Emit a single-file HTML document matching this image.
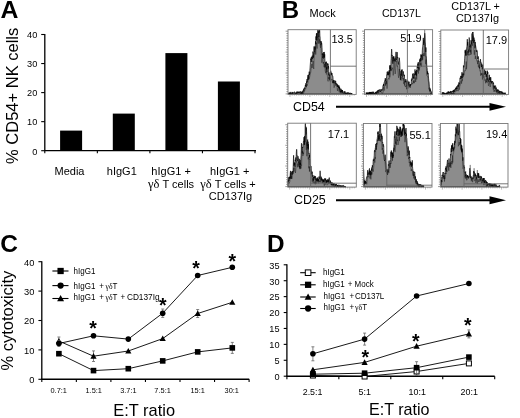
<!DOCTYPE html>
<html><head><meta charset="utf-8"><style>
html,body{margin:0;padding:0;background:#fff;overflow:hidden;width:520px;height:418px;}
svg{display:block;filter:blur(0.3px);}
text{font-family:"Liberation Sans", sans-serif;fill:#000;}
</style></head><body>
<svg width="520" height="418" viewBox="0 0 520 418">
<rect width="520" height="418" fill="#fff"/>
<text x="0.5" y="17.9" font-size="24.8" text-anchor="start" font-weight="bold" >A</text>
<line x1="44.8" y1="34.00" x2="44.8" y2="150.7" stroke="#000" stroke-width="1.3"/>
<line x1="44.199999999999996" y1="150.7" x2="256" y2="150.7" stroke="#000" stroke-width="1.3"/>
<line x1="41.199999999999996" y1="150.70" x2="44.8" y2="150.70" stroke="#000" stroke-width="1.1"/>
<text x="37.3" y="154.5" font-size="9.2" text-anchor="end" font-weight="normal" fill="#222">0</text>
<line x1="41.199999999999996" y1="121.65" x2="44.8" y2="121.65" stroke="#000" stroke-width="1.1"/>
<text x="37.3" y="125.45" font-size="9.2" text-anchor="end" font-weight="normal" fill="#222">10</text>
<line x1="41.199999999999996" y1="92.60" x2="44.8" y2="92.60" stroke="#000" stroke-width="1.1"/>
<text x="37.3" y="96.4" font-size="9.2" text-anchor="end" font-weight="normal" fill="#222">20</text>
<line x1="41.199999999999996" y1="63.55" x2="44.8" y2="63.55" stroke="#000" stroke-width="1.1"/>
<text x="37.3" y="67.35" font-size="9.2" text-anchor="end" font-weight="normal" fill="#222">30</text>
<line x1="41.199999999999996" y1="34.50" x2="44.8" y2="34.50" stroke="#000" stroke-width="1.1"/>
<text x="37.3" y="38.3" font-size="9.2" text-anchor="end" font-weight="normal" fill="#222">40</text>
<line x1="44.80" y1="150.7" x2="44.80" y2="153.29999999999998" stroke="#000" stroke-width="1.1"/>
<line x1="97.35" y1="150.7" x2="97.35" y2="153.29999999999998" stroke="#000" stroke-width="1.1"/>
<line x1="149.90" y1="150.7" x2="149.90" y2="153.29999999999998" stroke="#000" stroke-width="1.1"/>
<line x1="202.45" y1="150.7" x2="202.45" y2="153.29999999999998" stroke="#000" stroke-width="1.1"/>
<line x1="255.00" y1="150.7" x2="255.00" y2="153.29999999999998" stroke="#000" stroke-width="1.1"/>
<rect x="60.099999999999994" y="130.6" width="22" height="20.10" fill="#000"/>
<rect x="112.8" y="113.6" width="22" height="37.10" fill="#000"/>
<rect x="165.4" y="53.1" width="22" height="97.60" fill="#000"/>
<rect x="217.9" y="81.5" width="22" height="69.20" fill="#000"/>
<text x="69.5" y="174.8" font-size="11" text-anchor="middle" font-weight="normal" >Media</text>
<text x="121.8" y="174.8" font-size="11" text-anchor="middle" font-weight="normal" >hIgG1</text>
<text x="171.1" y="174.8" font-size="11" text-anchor="middle" font-weight="normal" >hIgG1 +</text>
<text x="171.1" y="187.5" font-size="11" text-anchor="middle" font-weight="normal" ><tspan font-family="Liberation Serif" font-size="12.5">γδ</tspan> T cells</text>
<text x="229.7" y="174.8" font-size="11" text-anchor="middle" font-weight="normal" >hIgG1 +</text>
<text x="228" y="187.5" font-size="11" text-anchor="middle" font-weight="normal" ><tspan font-family="Liberation Serif" font-size="12.5">γδ</tspan> T cells +</text>
<text x="230.5" y="200.3" font-size="11" text-anchor="middle" font-weight="normal" >CD137Ig</text>
<text transform="translate(17.8,95.8) rotate(-90)" font-size="16.5" text-anchor="middle">% CD54+ NK cells</text>
<text x="281.7" y="18.2" font-size="24" text-anchor="start" font-weight="bold" >B</text>
<text x="322.7" y="16.9" font-size="11" text-anchor="middle" font-weight="normal" >Mock</text>
<text x="401.4" y="16.9" font-size="10.6" text-anchor="middle" font-weight="normal" >CD137L</text>
<text x="475.6" y="9.5" font-size="10.8" text-anchor="middle" font-weight="normal" >CD137L +</text>
<text x="477.5" y="21.9" font-size="10.9" text-anchor="middle" font-weight="normal" >CD137Ig</text>
<line x1="285.6" y1="31.2" x2="288" y2="31.2" stroke="#555" stroke-width="0.6"/>
<line x1="286.4" y1="33.5" x2="288" y2="33.5" stroke="#555" stroke-width="0.6"/>
<line x1="286.4" y1="35.8" x2="288" y2="35.8" stroke="#555" stroke-width="0.6"/>
<line x1="286.4" y1="38.2" x2="288" y2="38.2" stroke="#555" stroke-width="0.6"/>
<line x1="286.4" y1="40.5" x2="288" y2="40.5" stroke="#555" stroke-width="0.6"/>
<line x1="286.4" y1="42.8" x2="288" y2="42.8" stroke="#555" stroke-width="0.6"/>
<line x1="286.4" y1="45.1" x2="288" y2="45.1" stroke="#555" stroke-width="0.6"/>
<line x1="286.4" y1="47.5" x2="288" y2="47.5" stroke="#555" stroke-width="0.6"/>
<line x1="286.4" y1="49.8" x2="288" y2="49.8" stroke="#555" stroke-width="0.6"/>
<line x1="285.6" y1="52.1" x2="288" y2="52.1" stroke="#555" stroke-width="0.6"/>
<line x1="286.4" y1="54.4" x2="288" y2="54.4" stroke="#555" stroke-width="0.6"/>
<line x1="286.4" y1="56.7" x2="288" y2="56.7" stroke="#555" stroke-width="0.6"/>
<line x1="286.4" y1="59.1" x2="288" y2="59.1" stroke="#555" stroke-width="0.6"/>
<line x1="286.4" y1="61.4" x2="288" y2="61.4" stroke="#555" stroke-width="0.6"/>
<line x1="286.4" y1="63.7" x2="288" y2="63.7" stroke="#555" stroke-width="0.6"/>
<line x1="286.4" y1="66.0" x2="288" y2="66.0" stroke="#555" stroke-width="0.6"/>
<line x1="286.4" y1="68.4" x2="288" y2="68.4" stroke="#555" stroke-width="0.6"/>
<line x1="286.4" y1="70.7" x2="288" y2="70.7" stroke="#555" stroke-width="0.6"/>
<line x1="285.6" y1="73.0" x2="288" y2="73.0" stroke="#555" stroke-width="0.6"/>
<line x1="286.4" y1="75.3" x2="288" y2="75.3" stroke="#555" stroke-width="0.6"/>
<line x1="286.4" y1="77.6" x2="288" y2="77.6" stroke="#555" stroke-width="0.6"/>
<line x1="286.4" y1="80.0" x2="288" y2="80.0" stroke="#555" stroke-width="0.6"/>
<line x1="286.4" y1="82.3" x2="288" y2="82.3" stroke="#555" stroke-width="0.6"/>
<line x1="286.4" y1="84.6" x2="288" y2="84.6" stroke="#555" stroke-width="0.6"/>
<line x1="286.4" y1="86.9" x2="288" y2="86.9" stroke="#555" stroke-width="0.6"/>
<line x1="286.4" y1="89.3" x2="288" y2="89.3" stroke="#555" stroke-width="0.6"/>
<line x1="286.4" y1="91.6" x2="288" y2="91.6" stroke="#555" stroke-width="0.6"/>
<line x1="285.6" y1="93.9" x2="288" y2="93.9" stroke="#555" stroke-width="0.6"/>
<line x1="290.0" y1="94.4" x2="290.0" y2="96.9" stroke="#777" stroke-width="0.5"/>
<line x1="292.2" y1="94.4" x2="292.2" y2="95.7" stroke="#777" stroke-width="0.5"/>
<line x1="294.4" y1="94.4" x2="294.4" y2="95.7" stroke="#777" stroke-width="0.5"/>
<line x1="296.6" y1="94.4" x2="296.6" y2="95.7" stroke="#777" stroke-width="0.5"/>
<line x1="298.9" y1="94.4" x2="298.9" y2="95.7" stroke="#777" stroke-width="0.5"/>
<line x1="301.1" y1="94.4" x2="301.1" y2="95.7" stroke="#777" stroke-width="0.5"/>
<line x1="303.3" y1="94.4" x2="303.3" y2="95.7" stroke="#777" stroke-width="0.5"/>
<line x1="305.5" y1="94.4" x2="305.5" y2="95.7" stroke="#777" stroke-width="0.5"/>
<line x1="307.7" y1="94.4" x2="307.7" y2="95.7" stroke="#777" stroke-width="0.5"/>
<line x1="309.9" y1="94.4" x2="309.9" y2="96.9" stroke="#777" stroke-width="0.5"/>
<line x1="312.1" y1="94.4" x2="312.1" y2="95.7" stroke="#777" stroke-width="0.5"/>
<line x1="314.4" y1="94.4" x2="314.4" y2="95.7" stroke="#777" stroke-width="0.5"/>
<line x1="316.6" y1="94.4" x2="316.6" y2="95.7" stroke="#777" stroke-width="0.5"/>
<line x1="318.8" y1="94.4" x2="318.8" y2="95.7" stroke="#777" stroke-width="0.5"/>
<line x1="321.0" y1="94.4" x2="321.0" y2="95.7" stroke="#777" stroke-width="0.5"/>
<line x1="323.2" y1="94.4" x2="323.2" y2="95.7" stroke="#777" stroke-width="0.5"/>
<line x1="325.4" y1="94.4" x2="325.4" y2="95.7" stroke="#777" stroke-width="0.5"/>
<line x1="327.6" y1="94.4" x2="327.6" y2="95.7" stroke="#777" stroke-width="0.5"/>
<line x1="329.8" y1="94.4" x2="329.8" y2="96.9" stroke="#777" stroke-width="0.5"/>
<line x1="332.1" y1="94.4" x2="332.1" y2="95.7" stroke="#777" stroke-width="0.5"/>
<line x1="334.3" y1="94.4" x2="334.3" y2="95.7" stroke="#777" stroke-width="0.5"/>
<line x1="336.5" y1="94.4" x2="336.5" y2="95.7" stroke="#777" stroke-width="0.5"/>
<line x1="338.7" y1="94.4" x2="338.7" y2="95.7" stroke="#777" stroke-width="0.5"/>
<line x1="340.9" y1="94.4" x2="340.9" y2="95.7" stroke="#777" stroke-width="0.5"/>
<line x1="343.1" y1="94.4" x2="343.1" y2="95.7" stroke="#777" stroke-width="0.5"/>
<line x1="345.3" y1="94.4" x2="345.3" y2="95.7" stroke="#777" stroke-width="0.5"/>
<line x1="347.6" y1="94.4" x2="347.6" y2="95.7" stroke="#777" stroke-width="0.5"/>
<line x1="349.8" y1="94.4" x2="349.8" y2="96.9" stroke="#777" stroke-width="0.5"/>
<line x1="352.0" y1="94.4" x2="352.0" y2="95.7" stroke="#777" stroke-width="0.5"/>
<line x1="354.2" y1="94.4" x2="354.2" y2="95.7" stroke="#777" stroke-width="0.5"/>
<path d="M288.5,94.0 L288.50,94.0 L288.70,92.7 L288.89,93.3 L289.09,94.0 L289.29,93.4 L289.49,93.1 L289.68,92.6 L289.88,93.2 L290.08,94.0 L290.28,91.9 L290.47,93.6 L290.67,93.7 L290.87,93.8 L291.07,93.5 L291.26,93.6 L291.46,92.9 L291.66,93.0 L291.86,92.7 L292.05,91.9 L292.25,93.8 L292.45,93.1 L292.64,92.3 L292.84,92.9 L293.04,92.8 L293.24,92.5 L293.43,92.5 L293.63,92.9 L293.83,93.1 L294.03,93.0 L294.22,92.7 L294.42,91.7 L294.62,92.2 L294.82,92.2 L295.01,93.2 L295.21,93.8 L295.41,93.6 L295.61,93.6 L295.80,93.7 L296.00,92.4 L296.20,93.8 L296.41,93.4 L296.61,91.9 L296.81,91.7 L297.02,91.6 L297.22,93.3 L297.42,92.1 L297.62,91.7 L297.83,93.0 L298.03,92.4 L298.23,91.7 L298.44,91.9 L298.64,92.8 L298.84,91.9 L299.05,92.0 L299.25,93.0 L299.45,92.3 L299.66,91.9 L299.86,92.3 L300.06,91.3 L300.27,92.3 L300.47,92.4 L300.67,91.9 L300.88,91.6 L301.08,93.6 L301.28,92.6 L301.48,91.9 L301.69,93.0 L301.89,93.7 L302.09,91.7 L302.30,91.6 L302.50,91.8 L302.70,92.8 L302.90,90.6 L303.10,91.8 L303.30,91.2 L303.50,90.3 L303.70,88.7 L303.90,91.2 L304.10,90.4 L304.31,89.1 L304.52,87.8 L304.73,88.7 L304.93,86.9 L305.14,86.9 L305.35,85.1 L305.56,86.2 L305.77,83.3 L305.98,84.1 L306.18,86.8 L306.39,85.4 L306.60,81.5 L306.80,83.0 L307.00,79.1 L307.20,81.9 L307.40,80.4 L307.60,78.1 L307.80,76.8 L308.00,75.1 L308.20,79.9 L308.40,74.7 L308.60,78.9 L308.80,78.9 L309.00,75.5 L309.21,71.7 L309.42,74.9 L309.62,74.1 L309.83,70.8 L310.04,67.9 L310.25,64.9 L310.46,62.2 L310.67,58.7 L310.88,59.7 L311.08,58.2 L311.29,57.0 L311.50,56.8 L311.70,61.9 L311.90,57.8 L312.10,58.2 L312.30,55.6 L312.50,58.8 L312.70,58.9 L312.90,51.6 L313.10,52.9 L313.30,53.6 L313.50,57.6 L313.70,54.3 L313.90,49.0 L314.10,46.4 L314.30,50.3 L314.50,51.6 L314.70,52.4 L314.91,47.0 L315.12,49.5 L315.34,45.5 L315.55,41.3 L315.76,44.2 L315.97,36.4 L316.19,40.3 L316.40,33.5 L316.58,33.6 L316.77,40.3 L316.95,33.0 L317.13,37.8 L317.32,35.6 L317.50,35.3 L317.69,30.2 L317.87,30.2 L318.06,30.2 L318.24,32.9 L318.43,31.6 L318.61,36.2 L318.80,36.8 L318.99,30.2 L319.17,32.6 L319.36,30.2 L319.54,30.2 L319.73,30.2 L319.91,35.9 L320.10,37.0 L320.32,42.3 L320.54,41.6 L320.76,43.9 L320.98,45.2 L321.20,41.2 L321.41,43.7 L321.62,42.9 L321.84,43.9 L322.05,47.8 L322.26,54.8 L322.47,53.4 L322.69,57.8 L322.90,55.3 L323.10,53.9 L323.30,58.1 L323.50,58.5 L323.70,52.1 L323.90,56.9 L324.10,52.2 L324.30,52.1 L324.50,57.6 L324.70,54.3 L324.90,58.8 L325.10,67.4 L325.30,66.3 L325.50,63.0 L325.70,62.4 L325.90,61.9 L326.10,64.5 L326.31,61.7 L326.53,69.3 L326.74,67.3 L326.95,72.4 L327.16,70.5 L327.38,64.9 L327.59,63.4 L327.80,65.0 L328.00,63.7 L328.20,68.6 L328.40,65.7 L328.60,67.0 L328.80,75.1 L329.00,72.4 L329.20,76.0 L329.40,76.1 L329.60,75.7 L329.80,74.6 L330.00,80.3 L330.20,80.1 L330.40,78.4 L330.60,71.7 L330.80,70.8 L331.00,72.6 L331.20,75.0 L331.40,72.7 L331.60,73.9 L331.80,74.5 L332.00,73.2 L332.20,75.9 L332.40,75.6 L332.60,76.2 L332.81,76.1 L333.02,78.1 L333.23,82.8 L333.43,80.1 L333.64,81.3 L333.85,81.3 L334.06,83.0 L334.27,80.5 L334.48,80.5 L334.68,81.1 L334.89,81.5 L335.10,84.0 L335.30,84.0 L335.50,80.8 L335.70,80.8 L335.90,82.7 L336.10,83.8 L336.30,84.7 L336.50,83.8 L336.70,83.3 L336.90,84.7 L337.10,84.4 L337.30,86.9 L337.50,84.6 L337.71,84.5 L337.92,86.8 L338.12,85.3 L338.33,87.5 L338.54,86.4 L338.75,88.0 L338.96,85.5 L339.17,87.4 L339.38,89.0 L339.58,86.9 L339.79,90.6 L340.00,88.4 L340.20,90.9 L340.40,92.0 L340.60,91.5 L340.80,89.6 L341.00,88.8 L341.20,90.0 L341.40,91.4 L341.60,89.8 L341.80,92.0 L342.00,90.0 L342.20,92.5 L342.40,90.0 L342.60,90.9 L342.80,92.7 L343.00,92.5 L343.20,93.0 L343.40,93.0 L343.60,92.8 L343.80,92.7 L344.00,91.4 L344.20,92.1 L344.40,91.5 L344.60,93.0 L344.80,92.9 L345.00,92.0 L345.20,91.6 L345.40,93.9 L345.60,93.6 L345.80,93.1 L346.00,93.2 L346.20,93.9 L346.40,93.0 L346.60,92.9 L346.80,92.8 L347.00,92.7 L347.20,92.2 L347.40,93.7 L347.60,93.2 L347.80,93.6 L348.00,92.6 L348.20,93.2 L348.40,92.7 L348.60,92.7 L348.80,93.0 L349.00,94.0 L349.20,93.3 L349.40,93.3 L349.60,93.8 L349.80,93.1 L350.00,92.7 L350.20,93.7 L350.40,93.6 L350.60,93.9 L350.80,93.5 L351.00,93.9 L351.20,94.0 L351.40,93.2 L351.60,93.7 L351.80,93.7 L352.00,93.3 L352.0,94.0 Z" fill="#8c8c8c" stroke="#000" stroke-width="0.65" stroke-linejoin="miter"/>
<path d="M288.50,94.0 L288.86,94.0 L289.21,94.0 L289.57,94.0 L289.93,93.6 L290.29,94.0 L290.64,94.0 L291.00,93.8 L291.36,94.0 L291.71,93.9 L292.07,94.0 L292.43,93.1 L292.79,94.0 L293.14,94.0 L293.50,93.7 L293.86,94.0 L294.21,94.0 L294.57,94.0 L294.93,94.0 L295.29,94.0 L295.64,93.9 L296.00,93.6 L296.34,93.1 L296.68,93.6 L297.03,94.0 L297.37,94.0 L297.71,94.0 L298.05,94.0 L298.39,94.0 L298.74,94.0 L299.08,94.0 L299.42,93.9 L299.76,94.0 L300.11,94.0 L300.45,93.5 L300.79,93.1 L301.13,94.0 L301.47,94.0 L301.82,93.7 L302.16,92.4 L302.50,93.7 L302.82,92.9 L303.14,92.9 L303.46,93.5 L303.78,92.2 L304.10,92.3 L304.46,91.5 L304.81,90.3 L305.17,88.5 L305.53,89.2 L305.89,88.2 L306.24,87.4 L306.60,86.1 L306.94,84.4 L307.29,85.6 L307.63,84.0 L307.97,83.0 L308.31,80.5 L308.66,80.2 L309.00,79.1 L309.36,78.5 L309.71,76.8 L310.07,75.2 L310.43,72.7 L310.79,72.7 L311.14,68.9 L311.50,67.5 L311.82,64.0 L312.14,68.0 L312.46,64.3 L312.78,64.1 L313.10,61.0 L313.42,66.4 L313.74,69.0 L314.06,60.1 L314.38,53.5 L314.70,54.1 L315.04,45.9 L315.38,47.6 L315.72,54.6 L316.06,49.6 L316.40,42.7 L316.77,45.1 L317.13,48.6 L317.50,40.3 L317.82,37.6 L318.15,43.6 L318.48,36.9 L318.80,35.9 L319.12,43.6 L319.45,39.3 L319.78,41.6 L320.10,44.8 L320.47,47.8 L320.83,44.2 L321.20,53.6 L321.54,57.7 L321.88,62.8 L322.22,58.8 L322.56,57.2 L322.90,58.8 L323.22,63.7 L323.54,62.0 L323.86,66.2 L324.18,67.2 L324.50,64.0 L324.82,65.0 L325.14,70.5 L325.46,72.1 L325.78,73.2 L326.10,64.8 L326.44,74.4 L326.78,73.9 L327.12,73.4 L327.46,76.6 L327.80,80.7 L328.14,81.4 L328.49,77.3 L328.83,78.9 L329.17,74.7 L329.51,79.6 L329.86,77.0 L330.20,81.7 L330.54,81.8 L330.89,81.0 L331.23,78.9 L331.57,79.4 L331.91,79.1 L332.26,79.5 L332.60,83.2 L332.96,81.0 L333.31,83.3 L333.67,83.0 L334.03,87.7 L334.39,87.1 L334.74,84.4 L335.10,83.4 L335.44,84.8 L335.79,85.8 L336.13,84.5 L336.47,85.2 L336.81,85.0 L337.16,88.5 L337.50,90.9 L337.86,88.3 L338.21,88.0 L338.57,90.5 L338.93,91.5 L339.29,92.3 L339.64,91.8 L340.00,91.2 L340.36,92.9 L340.71,91.0 L341.07,93.4 L341.42,91.3 L341.78,92.3 L342.13,93.1 L342.49,93.1 L342.84,92.5 L343.20,92.8 L343.54,94.0 L343.89,93.9 L344.23,94.0 L344.57,93.1 L344.91,94.0 L345.26,93.8 L345.60,94.0 L345.94,94.0 L346.29,94.0 L346.63,93.2 L346.97,94.0 L347.31,94.0 L347.66,94.0 L348.00,94.0 L348.36,94.0 L348.73,94.0 L349.09,94.0 L349.45,94.0 L349.82,94.0 L350.18,93.9 L350.55,94.0 L350.91,93.7 L351.27,94.0 L351.64,94.0 L352.00,93.9" fill="none" stroke="#000" stroke-width="0.5" stroke-opacity="0.7"/>
<rect x="288" y="29.7" width="68.20" height="64.70" fill="none" stroke="#777" stroke-width="0.9"/>
<line x1="330.4" y1="29.7" x2="330.4" y2="94.4" stroke="#666" stroke-width="0.9"/>
<line x1="330.4" y1="66.2" x2="356.2" y2="66.2" stroke="#666" stroke-width="0.9"/>
<text x="352.8" y="43.3" font-size="11" text-anchor="end" font-weight="normal" >13.5</text>
<line x1="362.1" y1="31.2" x2="364.5" y2="31.2" stroke="#555" stroke-width="0.6"/>
<line x1="362.9" y1="33.5" x2="364.5" y2="33.5" stroke="#555" stroke-width="0.6"/>
<line x1="362.9" y1="35.8" x2="364.5" y2="35.8" stroke="#555" stroke-width="0.6"/>
<line x1="362.9" y1="38.2" x2="364.5" y2="38.2" stroke="#555" stroke-width="0.6"/>
<line x1="362.9" y1="40.5" x2="364.5" y2="40.5" stroke="#555" stroke-width="0.6"/>
<line x1="362.9" y1="42.8" x2="364.5" y2="42.8" stroke="#555" stroke-width="0.6"/>
<line x1="362.9" y1="45.1" x2="364.5" y2="45.1" stroke="#555" stroke-width="0.6"/>
<line x1="362.9" y1="47.5" x2="364.5" y2="47.5" stroke="#555" stroke-width="0.6"/>
<line x1="362.9" y1="49.8" x2="364.5" y2="49.8" stroke="#555" stroke-width="0.6"/>
<line x1="362.1" y1="52.1" x2="364.5" y2="52.1" stroke="#555" stroke-width="0.6"/>
<line x1="362.9" y1="54.4" x2="364.5" y2="54.4" stroke="#555" stroke-width="0.6"/>
<line x1="362.9" y1="56.7" x2="364.5" y2="56.7" stroke="#555" stroke-width="0.6"/>
<line x1="362.9" y1="59.1" x2="364.5" y2="59.1" stroke="#555" stroke-width="0.6"/>
<line x1="362.9" y1="61.4" x2="364.5" y2="61.4" stroke="#555" stroke-width="0.6"/>
<line x1="362.9" y1="63.7" x2="364.5" y2="63.7" stroke="#555" stroke-width="0.6"/>
<line x1="362.9" y1="66.0" x2="364.5" y2="66.0" stroke="#555" stroke-width="0.6"/>
<line x1="362.9" y1="68.4" x2="364.5" y2="68.4" stroke="#555" stroke-width="0.6"/>
<line x1="362.9" y1="70.7" x2="364.5" y2="70.7" stroke="#555" stroke-width="0.6"/>
<line x1="362.1" y1="73.0" x2="364.5" y2="73.0" stroke="#555" stroke-width="0.6"/>
<line x1="362.9" y1="75.3" x2="364.5" y2="75.3" stroke="#555" stroke-width="0.6"/>
<line x1="362.9" y1="77.6" x2="364.5" y2="77.6" stroke="#555" stroke-width="0.6"/>
<line x1="362.9" y1="80.0" x2="364.5" y2="80.0" stroke="#555" stroke-width="0.6"/>
<line x1="362.9" y1="82.3" x2="364.5" y2="82.3" stroke="#555" stroke-width="0.6"/>
<line x1="362.9" y1="84.6" x2="364.5" y2="84.6" stroke="#555" stroke-width="0.6"/>
<line x1="362.9" y1="86.9" x2="364.5" y2="86.9" stroke="#555" stroke-width="0.6"/>
<line x1="362.9" y1="89.3" x2="364.5" y2="89.3" stroke="#555" stroke-width="0.6"/>
<line x1="362.9" y1="91.6" x2="364.5" y2="91.6" stroke="#555" stroke-width="0.6"/>
<line x1="362.1" y1="93.9" x2="364.5" y2="93.9" stroke="#555" stroke-width="0.6"/>
<line x1="366.5" y1="94.4" x2="366.5" y2="96.9" stroke="#777" stroke-width="0.5"/>
<line x1="368.7" y1="94.4" x2="368.7" y2="95.7" stroke="#777" stroke-width="0.5"/>
<line x1="370.9" y1="94.4" x2="370.9" y2="95.7" stroke="#777" stroke-width="0.5"/>
<line x1="373.1" y1="94.4" x2="373.1" y2="95.7" stroke="#777" stroke-width="0.5"/>
<line x1="375.3" y1="94.4" x2="375.3" y2="95.7" stroke="#777" stroke-width="0.5"/>
<line x1="377.6" y1="94.4" x2="377.6" y2="95.7" stroke="#777" stroke-width="0.5"/>
<line x1="379.8" y1="94.4" x2="379.8" y2="95.7" stroke="#777" stroke-width="0.5"/>
<line x1="382.0" y1="94.4" x2="382.0" y2="95.7" stroke="#777" stroke-width="0.5"/>
<line x1="384.2" y1="94.4" x2="384.2" y2="95.7" stroke="#777" stroke-width="0.5"/>
<line x1="386.4" y1="94.4" x2="386.4" y2="96.9" stroke="#777" stroke-width="0.5"/>
<line x1="388.6" y1="94.4" x2="388.6" y2="95.7" stroke="#777" stroke-width="0.5"/>
<line x1="390.8" y1="94.4" x2="390.8" y2="95.7" stroke="#777" stroke-width="0.5"/>
<line x1="393.0" y1="94.4" x2="393.0" y2="95.7" stroke="#777" stroke-width="0.5"/>
<line x1="395.2" y1="94.4" x2="395.2" y2="95.7" stroke="#777" stroke-width="0.5"/>
<line x1="397.4" y1="94.4" x2="397.4" y2="95.7" stroke="#777" stroke-width="0.5"/>
<line x1="399.7" y1="94.4" x2="399.7" y2="95.7" stroke="#777" stroke-width="0.5"/>
<line x1="401.9" y1="94.4" x2="401.9" y2="95.7" stroke="#777" stroke-width="0.5"/>
<line x1="404.1" y1="94.4" x2="404.1" y2="95.7" stroke="#777" stroke-width="0.5"/>
<line x1="406.3" y1="94.4" x2="406.3" y2="96.9" stroke="#777" stroke-width="0.5"/>
<line x1="408.5" y1="94.4" x2="408.5" y2="95.7" stroke="#777" stroke-width="0.5"/>
<line x1="410.7" y1="94.4" x2="410.7" y2="95.7" stroke="#777" stroke-width="0.5"/>
<line x1="412.9" y1="94.4" x2="412.9" y2="95.7" stroke="#777" stroke-width="0.5"/>
<line x1="415.1" y1="94.4" x2="415.1" y2="95.7" stroke="#777" stroke-width="0.5"/>
<line x1="417.3" y1="94.4" x2="417.3" y2="95.7" stroke="#777" stroke-width="0.5"/>
<line x1="419.5" y1="94.4" x2="419.5" y2="95.7" stroke="#777" stroke-width="0.5"/>
<line x1="421.8" y1="94.4" x2="421.8" y2="95.7" stroke="#777" stroke-width="0.5"/>
<line x1="424.0" y1="94.4" x2="424.0" y2="95.7" stroke="#777" stroke-width="0.5"/>
<line x1="426.2" y1="94.4" x2="426.2" y2="96.9" stroke="#777" stroke-width="0.5"/>
<line x1="428.4" y1="94.4" x2="428.4" y2="95.7" stroke="#777" stroke-width="0.5"/>
<line x1="430.6" y1="94.4" x2="430.6" y2="95.7" stroke="#777" stroke-width="0.5"/>
<path d="M366.0,94.0 L366.00,94.0 L366.20,92.6 L366.40,93.8 L366.60,92.9 L366.80,92.7 L367.00,94.0 L367.20,92.5 L367.40,93.4 L367.60,94.0 L367.80,92.8 L368.00,92.7 L368.20,94.0 L368.40,93.1 L368.60,93.7 L368.80,92.3 L369.00,93.0 L369.20,92.6 L369.40,93.6 L369.60,92.2 L369.80,94.0 L370.00,91.9 L370.20,93.5 L370.40,92.0 L370.60,92.5 L370.80,93.8 L371.00,92.3 L371.20,92.3 L371.40,93.4 L371.60,92.7 L371.80,91.9 L372.00,94.0 L372.20,92.1 L372.40,91.8 L372.60,92.5 L372.80,93.1 L373.00,93.4 L373.20,91.9 L373.40,92.5 L373.60,91.8 L373.80,92.7 L374.00,93.5 L374.20,93.4 L374.40,93.8 L374.60,93.4 L374.80,93.7 L375.00,93.3 L375.20,92.7 L375.40,92.1 L375.60,93.1 L375.80,92.3 L376.00,91.8 L376.20,92.6 L376.41,93.6 L376.61,91.6 L376.81,92.6 L377.02,91.9 L377.22,92.1 L377.42,90.8 L377.62,92.7 L377.83,90.4 L378.03,91.1 L378.23,90.8 L378.44,89.9 L378.64,91.7 L378.84,90.7 L379.05,90.2 L379.25,89.8 L379.45,90.0 L379.66,89.5 L379.86,91.0 L380.06,90.5 L380.27,91.9 L380.47,91.6 L380.67,91.8 L380.88,89.4 L381.08,90.1 L381.28,89.4 L381.48,90.5 L381.69,90.5 L381.89,91.0 L382.09,90.6 L382.30,88.9 L382.50,89.3 L382.70,89.0 L382.90,86.3 L383.10,85.6 L383.30,86.2 L383.50,84.0 L383.70,86.0 L383.90,83.5 L384.10,82.5 L384.30,82.6 L384.50,82.1 L384.70,80.7 L384.90,80.8 L385.11,79.2 L385.32,78.1 L385.52,80.7 L385.73,79.4 L385.94,84.2 L386.15,83.5 L386.36,80.2 L386.57,76.4 L386.77,74.6 L386.98,74.8 L387.19,71.8 L387.40,74.0 L387.60,74.8 L387.80,72.3 L388.00,71.3 L388.20,75.3 L388.40,72.2 L388.60,72.8 L388.80,75.0 L389.00,72.6 L389.20,70.2 L389.40,73.8 L389.60,68.8 L389.80,65.5 L390.00,69.0 L390.20,65.2 L390.40,66.7 L390.60,70.5 L390.80,69.6 L391.00,60.4 L391.20,58.8 L391.40,53.6 L391.60,49.1 L391.80,50.0 L392.00,55.8 L392.20,55.0 L392.40,59.7 L392.60,59.9 L392.80,63.7 L393.00,56.8 L393.20,61.4 L393.40,56.5 L393.60,58.7 L393.80,56.6 L394.00,56.4 L394.20,60.4 L394.40,59.5 L394.60,59.4 L394.80,61.3 L395.00,58.2 L395.20,61.5 L395.40,57.1 L395.60,56.9 L395.80,55.6 L396.01,51.9 L396.22,58.3 L396.43,60.2 L396.64,58.1 L396.85,54.7 L397.06,52.0 L397.27,52.7 L397.48,58.2 L397.69,57.3 L397.90,62.3 L398.11,62.6 L398.32,64.5 L398.52,61.9 L398.73,61.4 L398.94,60.8 L399.15,57.7 L399.36,58.0 L399.57,60.5 L399.77,62.8 L399.98,68.3 L400.19,74.2 L400.40,79.8 L400.60,76.4 L400.80,76.8 L401.00,71.1 L401.20,71.8 L401.40,75.7 L401.60,70.1 L401.80,71.6 L402.00,69.3 L402.20,70.0 L402.40,75.6 L402.60,76.7 L402.80,75.1 L403.00,71.6 L403.20,72.2 L403.40,71.6 L403.60,74.0 L403.80,75.1 L404.00,74.7 L404.20,76.2 L404.40,75.0 L404.60,78.8 L404.80,82.4 L405.00,82.7 L405.20,80.7 L405.41,81.9 L405.62,82.0 L405.82,79.0 L406.03,81.6 L406.24,80.7 L406.45,83.1 L406.66,82.8 L406.87,86.2 L407.07,84.6 L407.28,83.1 L407.49,80.7 L407.70,82.3 L407.90,80.8 L408.10,83.9 L408.30,85.7 L408.50,82.4 L408.70,83.4 L408.90,82.6 L409.10,81.7 L409.30,83.3 L409.50,85.3 L409.70,85.1 L409.90,85.0 L410.10,87.6 L410.31,84.0 L410.52,85.6 L410.73,84.6 L410.93,84.3 L411.14,83.9 L411.35,79.7 L411.56,80.7 L411.77,78.6 L411.98,79.0 L412.18,79.6 L412.39,76.8 L412.60,73.7 L412.80,76.1 L413.00,77.4 L413.20,78.5 L413.40,77.1 L413.60,77.9 L413.80,73.3 L414.00,78.6 L414.20,76.3 L414.40,74.4 L414.60,75.1 L414.80,73.8 L415.00,69.4 L415.20,74.2 L415.40,74.3 L415.60,71.3 L415.80,74.8 L416.00,73.9 L416.20,71.5 L416.40,75.6 L416.60,69.9 L416.80,71.7 L417.00,69.2 L417.20,66.6 L417.40,67.8 L417.59,66.3 L417.78,63.6 L417.97,68.0 L418.16,62.1 L418.35,62.2 L418.55,66.3 L418.74,69.5 L418.93,67.4 L419.12,66.5 L419.31,63.0 L419.50,62.7 L419.70,59.5 L419.90,59.3 L420.10,61.5 L420.30,58.3 L420.50,57.8 L420.70,61.0 L420.90,54.4 L421.10,56.9 L421.30,56.8 L421.50,55.0 L421.70,58.3 L421.90,60.3 L422.10,59.9 L422.30,50.8 L422.50,47.9 L422.70,46.8 L422.90,45.0 L423.10,41.7 L423.30,37.9 L423.50,41.5 L423.70,44.9 L423.90,40.4 L424.10,42.8 L424.30,42.2 L424.50,36.3 L424.70,33.2 L424.90,33.3 L425.10,42.1 L425.30,43.1 L425.50,46.3 L425.73,51.9 L425.95,47.5 L426.17,57.0 L426.40,56.8 L426.60,62.0 L426.80,65.8 L427.00,67.5 L427.20,68.3 L427.40,73.8 L427.60,71.4 L427.80,74.4 L428.00,72.9 L428.20,73.8 L428.40,76.0 L428.60,78.8 L428.80,80.8 L429.00,81.9 L429.20,84.1 L429.40,86.7 L429.60,87.5 L429.80,88.2 L430.00,91.0 L430.20,88.6 L430.40,91.4 L430.60,90.5 L430.80,90.9 L431.00,91.3 L431.20,91.2 L431.40,92.6 L431.60,92.3 L431.80,93.2 L432.00,93.2 L432.0,94.0 Z" fill="#8c8c8c" stroke="#000" stroke-width="0.65" stroke-linejoin="miter"/>
<path d="M366.00,94.0 L366.34,94.0 L366.69,94.0 L367.03,93.5 L367.38,93.7 L367.72,94.0 L368.07,93.7 L368.41,94.0 L368.76,94.0 L369.10,94.0 L369.45,93.5 L369.79,93.9 L370.14,94.0 L370.48,93.2 L370.83,93.4 L371.17,93.9 L371.52,93.5 L371.86,93.4 L372.21,94.0 L372.55,93.3 L372.90,94.0 L373.24,94.0 L373.59,93.1 L373.93,94.0 L374.28,93.5 L374.62,94.0 L374.97,94.0 L375.31,93.2 L375.66,94.0 L376.00,93.0 L376.34,93.2 L376.68,94.0 L377.03,94.0 L377.37,93.9 L377.71,94.0 L378.05,94.0 L378.39,92.1 L378.74,93.1 L379.08,91.8 L379.42,91.7 L379.76,91.6 L380.11,92.2 L380.45,91.4 L380.79,91.6 L381.13,91.5 L381.47,92.5 L381.82,93.3 L382.16,93.5 L382.50,93.3 L382.84,92.3 L383.19,92.3 L383.53,87.2 L383.87,87.1 L384.21,90.6 L384.56,86.3 L384.90,86.3 L385.26,83.5 L385.61,85.6 L385.97,83.6 L386.33,81.1 L386.69,83.9 L387.04,88.7 L387.40,84.8 L387.74,79.1 L388.09,78.7 L388.43,79.1 L388.77,78.4 L389.11,79.4 L389.46,74.2 L389.80,77.4 L390.14,76.0 L390.49,74.2 L390.83,67.0 L391.17,71.1 L391.51,69.0 L391.86,69.3 L392.20,69.1 L392.53,67.7 L392.87,70.8 L393.20,75.4 L393.53,71.9 L393.87,63.9 L394.20,61.5 L394.52,68.7 L394.84,71.1 L395.16,74.0 L395.48,72.9 L395.80,63.4 L396.15,61.0 L396.50,61.1 L396.85,65.9 L397.20,66.5 L397.55,65.6 L397.90,71.0 L398.26,75.1 L398.61,77.8 L398.97,75.8 L399.33,68.9 L399.69,72.6 L400.04,75.5 L400.40,74.4 L400.74,74.3 L401.09,80.6 L401.43,78.2 L401.77,77.0 L402.11,76.8 L402.46,78.5 L402.80,77.6 L403.14,80.6 L403.49,77.9 L403.83,83.9 L404.17,81.7 L404.51,85.5 L404.86,83.3 L405.20,86.5 L405.56,87.0 L405.91,85.8 L406.27,86.9 L406.63,89.3 L406.99,85.8 L407.34,88.6 L407.70,88.0 L408.04,88.4 L408.39,86.6 L408.73,86.8 L409.07,86.2 L409.41,86.7 L409.76,84.9 L410.10,84.0 L410.46,85.9 L410.81,85.0 L411.17,85.0 L411.53,84.3 L411.89,83.4 L412.24,83.1 L412.60,84.1 L412.94,84.0 L413.29,80.5 L413.63,82.8 L413.97,80.6 L414.31,83.2 L414.66,81.1 L415.00,77.9 L415.34,77.5 L415.69,82.0 L416.03,73.9 L416.37,75.1 L416.71,79.5 L417.06,72.8 L417.40,72.2 L417.75,70.7 L418.10,70.1 L418.45,73.6 L418.80,67.2 L419.15,70.6 L419.50,68.1 L419.83,67.9 L420.17,60.8 L420.50,65.5 L420.83,63.1 L421.17,65.1 L421.50,66.7 L421.82,59.6 L422.14,53.9 L422.46,58.3 L422.78,59.5 L423.10,54.6 L423.50,55.8 L423.90,53.0 L424.30,56.2 L424.70,35.6 L425.10,46.7 L425.50,63.2 L425.80,64.2 L426.10,59.6 L426.40,68.6 L426.72,75.5 L427.04,75.8 L427.36,75.9 L427.68,76.6 L428.00,78.2 L428.32,81.3 L428.64,82.2 L428.96,89.4 L429.28,87.5 L429.60,91.6 L429.92,91.5 L430.24,92.1 L430.56,94.0 L430.88,93.5 L431.20,94.0 L431.60,94.0 L432.00,94.0" fill="none" stroke="#000" stroke-width="0.5" stroke-opacity="0.7"/>
<line x1="424.7" y1="29.7" x2="424.7" y2="44" stroke="#333" stroke-width="0.7"/>
<rect x="364.5" y="29.7" width="68.10" height="64.70" fill="none" stroke="#777" stroke-width="0.9"/>
<line x1="407.4" y1="29.7" x2="407.4" y2="94.4" stroke="#666" stroke-width="0.9"/>
<line x1="407.4" y1="66.2" x2="432.6" y2="66.2" stroke="#666" stroke-width="0.9"/>
<text x="421.6" y="42.1" font-size="11" text-anchor="end" font-weight="normal" >51.9</text>
<line x1="438.40000000000003" y1="31.5" x2="440.8" y2="31.5" stroke="#555" stroke-width="0.6"/>
<line x1="439.2" y1="33.8" x2="440.8" y2="33.8" stroke="#555" stroke-width="0.6"/>
<line x1="439.2" y1="36.1" x2="440.8" y2="36.1" stroke="#555" stroke-width="0.6"/>
<line x1="439.2" y1="38.4" x2="440.8" y2="38.4" stroke="#555" stroke-width="0.6"/>
<line x1="439.2" y1="40.7" x2="440.8" y2="40.7" stroke="#555" stroke-width="0.6"/>
<line x1="439.2" y1="43.1" x2="440.8" y2="43.1" stroke="#555" stroke-width="0.6"/>
<line x1="439.2" y1="45.4" x2="440.8" y2="45.4" stroke="#555" stroke-width="0.6"/>
<line x1="439.2" y1="47.7" x2="440.8" y2="47.7" stroke="#555" stroke-width="0.6"/>
<line x1="439.2" y1="50.0" x2="440.8" y2="50.0" stroke="#555" stroke-width="0.6"/>
<line x1="438.40000000000003" y1="52.3" x2="440.8" y2="52.3" stroke="#555" stroke-width="0.6"/>
<line x1="439.2" y1="54.6" x2="440.8" y2="54.6" stroke="#555" stroke-width="0.6"/>
<line x1="439.2" y1="56.9" x2="440.8" y2="56.9" stroke="#555" stroke-width="0.6"/>
<line x1="439.2" y1="59.2" x2="440.8" y2="59.2" stroke="#555" stroke-width="0.6"/>
<line x1="439.2" y1="61.5" x2="440.8" y2="61.5" stroke="#555" stroke-width="0.6"/>
<line x1="439.2" y1="63.9" x2="440.8" y2="63.9" stroke="#555" stroke-width="0.6"/>
<line x1="439.2" y1="66.2" x2="440.8" y2="66.2" stroke="#555" stroke-width="0.6"/>
<line x1="439.2" y1="68.5" x2="440.8" y2="68.5" stroke="#555" stroke-width="0.6"/>
<line x1="439.2" y1="70.8" x2="440.8" y2="70.8" stroke="#555" stroke-width="0.6"/>
<line x1="438.40000000000003" y1="73.1" x2="440.8" y2="73.1" stroke="#555" stroke-width="0.6"/>
<line x1="439.2" y1="75.4" x2="440.8" y2="75.4" stroke="#555" stroke-width="0.6"/>
<line x1="439.2" y1="77.7" x2="440.8" y2="77.7" stroke="#555" stroke-width="0.6"/>
<line x1="439.2" y1="80.0" x2="440.8" y2="80.0" stroke="#555" stroke-width="0.6"/>
<line x1="439.2" y1="82.3" x2="440.8" y2="82.3" stroke="#555" stroke-width="0.6"/>
<line x1="439.2" y1="84.7" x2="440.8" y2="84.7" stroke="#555" stroke-width="0.6"/>
<line x1="439.2" y1="87.0" x2="440.8" y2="87.0" stroke="#555" stroke-width="0.6"/>
<line x1="439.2" y1="89.3" x2="440.8" y2="89.3" stroke="#555" stroke-width="0.6"/>
<line x1="439.2" y1="91.6" x2="440.8" y2="91.6" stroke="#555" stroke-width="0.6"/>
<line x1="438.40000000000003" y1="93.9" x2="440.8" y2="93.9" stroke="#555" stroke-width="0.6"/>
<line x1="442.8" y1="94.4" x2="442.8" y2="96.9" stroke="#777" stroke-width="0.5"/>
<line x1="445.0" y1="94.4" x2="445.0" y2="95.7" stroke="#777" stroke-width="0.5"/>
<line x1="447.2" y1="94.4" x2="447.2" y2="95.7" stroke="#777" stroke-width="0.5"/>
<line x1="449.4" y1="94.4" x2="449.4" y2="95.7" stroke="#777" stroke-width="0.5"/>
<line x1="451.6" y1="94.4" x2="451.6" y2="95.7" stroke="#777" stroke-width="0.5"/>
<line x1="453.8" y1="94.4" x2="453.8" y2="95.7" stroke="#777" stroke-width="0.5"/>
<line x1="456.0" y1="94.4" x2="456.0" y2="95.7" stroke="#777" stroke-width="0.5"/>
<line x1="458.2" y1="94.4" x2="458.2" y2="95.7" stroke="#777" stroke-width="0.5"/>
<line x1="460.4" y1="94.4" x2="460.4" y2="95.7" stroke="#777" stroke-width="0.5"/>
<line x1="462.6" y1="94.4" x2="462.6" y2="96.9" stroke="#777" stroke-width="0.5"/>
<line x1="464.8" y1="94.4" x2="464.8" y2="95.7" stroke="#777" stroke-width="0.5"/>
<line x1="467.0" y1="94.4" x2="467.0" y2="95.7" stroke="#777" stroke-width="0.5"/>
<line x1="469.2" y1="94.4" x2="469.2" y2="95.7" stroke="#777" stroke-width="0.5"/>
<line x1="471.4" y1="94.4" x2="471.4" y2="95.7" stroke="#777" stroke-width="0.5"/>
<line x1="473.6" y1="94.4" x2="473.6" y2="95.7" stroke="#777" stroke-width="0.5"/>
<line x1="475.8" y1="94.4" x2="475.8" y2="95.7" stroke="#777" stroke-width="0.5"/>
<line x1="478.0" y1="94.4" x2="478.0" y2="95.7" stroke="#777" stroke-width="0.5"/>
<line x1="480.2" y1="94.4" x2="480.2" y2="95.7" stroke="#777" stroke-width="0.5"/>
<line x1="482.4" y1="94.4" x2="482.4" y2="96.9" stroke="#777" stroke-width="0.5"/>
<line x1="484.6" y1="94.4" x2="484.6" y2="95.7" stroke="#777" stroke-width="0.5"/>
<line x1="486.8" y1="94.4" x2="486.8" y2="95.7" stroke="#777" stroke-width="0.5"/>
<line x1="489.0" y1="94.4" x2="489.0" y2="95.7" stroke="#777" stroke-width="0.5"/>
<line x1="491.2" y1="94.4" x2="491.2" y2="95.7" stroke="#777" stroke-width="0.5"/>
<line x1="493.4" y1="94.4" x2="493.4" y2="95.7" stroke="#777" stroke-width="0.5"/>
<line x1="495.6" y1="94.4" x2="495.6" y2="95.7" stroke="#777" stroke-width="0.5"/>
<line x1="497.8" y1="94.4" x2="497.8" y2="95.7" stroke="#777" stroke-width="0.5"/>
<line x1="500.0" y1="94.4" x2="500.0" y2="95.7" stroke="#777" stroke-width="0.5"/>
<line x1="502.2" y1="94.4" x2="502.2" y2="96.9" stroke="#777" stroke-width="0.5"/>
<line x1="504.4" y1="94.4" x2="504.4" y2="95.7" stroke="#777" stroke-width="0.5"/>
<line x1="506.6" y1="94.4" x2="506.6" y2="95.7" stroke="#777" stroke-width="0.5"/>
<path d="M442.0,94.0 L442.00,93.0 L442.20,92.5 L442.40,93.6 L442.60,92.4 L442.80,92.8 L443.00,93.2 L443.20,93.5 L443.40,92.5 L443.60,92.2 L443.80,94.0 L444.00,92.8 L444.20,94.0 L444.40,94.0 L444.60,93.0 L444.80,93.1 L445.00,93.2 L445.20,93.4 L445.40,93.2 L445.60,93.1 L445.80,93.3 L446.00,94.0 L446.20,93.0 L446.40,92.9 L446.60,93.7 L446.80,92.6 L447.00,92.7 L447.20,94.0 L447.40,93.0 L447.60,93.0 L447.80,91.7 L448.00,92.6 L448.20,92.9 L448.41,91.5 L448.61,93.0 L448.81,93.0 L449.02,91.6 L449.22,93.0 L449.42,92.5 L449.62,93.1 L449.83,92.2 L450.03,93.1 L450.23,93.1 L450.44,91.0 L450.64,91.0 L450.84,92.6 L451.05,93.4 L451.25,91.4 L451.45,92.0 L451.66,92.3 L451.86,91.4 L452.06,91.3 L452.27,91.0 L452.47,91.0 L452.67,91.7 L452.88,90.8 L453.08,91.0 L453.28,92.2 L453.48,89.9 L453.69,91.5 L453.89,91.9 L454.09,90.5 L454.30,90.1 L454.50,91.7 L454.69,89.6 L454.89,89.1 L455.08,89.6 L455.28,90.1 L455.47,87.8 L455.66,88.2 L455.86,88.0 L456.05,89.4 L456.25,87.7 L456.44,89.0 L456.64,86.4 L456.83,87.0 L457.02,88.2 L457.22,89.1 L457.41,87.2 L457.61,86.0 L457.80,85.4 L458.00,86.5 L458.20,84.5 L458.40,86.5 L458.60,86.1 L458.80,82.5 L459.00,82.5 L459.20,84.6 L459.40,83.4 L459.60,83.9 L459.80,80.4 L460.00,78.1 L460.20,77.7 L460.40,78.9 L460.60,75.9 L460.80,76.2 L461.00,76.5 L461.20,76.6 L461.40,76.0 L461.60,78.6 L461.80,73.6 L462.00,72.2 L462.20,77.6 L462.40,77.0 L462.60,77.4 L462.81,73.5 L463.03,74.8 L463.24,72.5 L463.45,65.5 L463.66,67.2 L463.88,67.4 L464.09,65.8 L464.30,64.3 L464.50,60.8 L464.70,58.2 L464.90,54.4 L465.10,50.2 L465.30,52.9 L465.50,50.9 L465.70,55.4 L465.90,49.7 L466.10,55.6 L466.30,51.4 L466.50,50.7 L466.70,47.9 L466.90,46.6 L467.10,44.0 L467.30,39.2 L467.50,45.4 L467.71,42.1 L467.92,45.7 L468.12,51.3 L468.33,52.6 L468.54,49.8 L468.75,50.5 L468.96,43.8 L469.17,37.5 L469.38,38.7 L469.58,47.0 L469.79,46.6 L470.00,52.3 L470.20,47.2 L470.40,44.5 L470.60,46.2 L470.80,47.5 L471.00,40.2 L471.20,44.3 L471.40,44.1 L471.60,41.5 L471.80,41.4 L472.00,33.5 L472.20,39.0 L472.40,41.0 L472.60,32.1 L472.80,33.2 L473.00,32.2 L473.20,33.7 L473.38,34.9 L473.57,37.6 L473.75,42.8 L473.93,37.6 L474.12,39.3 L474.30,40.6 L474.49,40.5 L474.67,39.9 L474.86,48.2 L475.04,47.9 L475.23,42.0 L475.41,46.4 L475.60,45.6 L475.81,46.7 L476.03,48.0 L476.24,51.5 L476.45,51.9 L476.66,50.6 L476.88,49.9 L477.09,51.6 L477.30,51.3 L477.50,56.2 L477.70,59.0 L477.90,57.9 L478.10,56.3 L478.30,56.8 L478.50,58.1 L478.70,59.6 L478.90,62.0 L479.10,61.5 L479.30,67.1 L479.50,68.3 L479.70,66.8 L479.90,63.9 L480.10,62.4 L480.30,61.6 L480.50,59.2 L480.70,62.5 L480.90,62.3 L481.10,62.2 L481.30,65.2 L481.50,67.0 L481.70,63.6 L481.90,66.7 L482.10,66.9 L482.31,69.2 L482.52,68.9 L482.73,64.7 L482.93,70.1 L483.14,72.9 L483.35,73.0 L483.56,77.6 L483.77,73.6 L483.98,74.9 L484.18,71.0 L484.39,69.5 L484.60,70.7 L484.80,71.5 L485.00,73.6 L485.20,74.1 L485.40,71.3 L485.60,74.3 L485.80,70.7 L486.00,71.6 L486.20,76.9 L486.40,74.1 L486.60,76.0 L486.80,77.5 L487.00,79.9 L487.21,73.7 L487.42,70.7 L487.62,74.0 L487.83,72.1 L488.04,78.4 L488.25,79.5 L488.46,81.7 L488.67,81.5 L488.88,78.6 L489.08,79.1 L489.29,74.8 L489.50,79.4 L489.70,78.6 L489.90,80.2 L490.10,77.3 L490.30,80.7 L490.50,81.7 L490.70,77.2 L490.90,79.1 L491.10,81.2 L491.30,83.4 L491.50,81.3 L491.70,81.1 L491.90,81.0 L492.10,82.4 L492.30,82.6 L492.50,81.1 L492.70,81.6 L492.90,82.5 L493.10,82.9 L493.30,83.8 L493.50,82.6 L493.70,85.0 L493.90,87.5 L494.10,85.5 L494.30,87.7 L494.51,85.9 L494.72,88.8 L494.93,88.8 L495.13,87.7 L495.34,86.3 L495.55,85.6 L495.76,87.1 L495.97,89.3 L496.18,87.6 L496.38,88.5 L496.59,91.1 L496.80,91.8 L497.00,90.5 L497.20,90.2 L497.40,91.1 L497.60,89.3 L497.80,89.5 L498.00,89.3 L498.20,90.8 L498.40,90.2 L498.60,90.2 L498.80,91.8 L499.00,92.7 L499.20,90.8 L499.40,92.1 L499.60,91.3 L499.80,92.9 L500.00,92.4 L500.19,91.7 L500.39,91.8 L500.58,91.2 L500.78,92.4 L500.97,92.1 L501.16,91.5 L501.36,92.0 L501.55,91.9 L501.75,93.1 L501.94,91.5 L502.14,93.7 L502.33,92.5 L502.52,92.8 L502.72,92.5 L502.91,93.5 L503.11,93.5 L503.30,92.9 L503.51,92.8 L503.72,93.4 L503.92,93.8 L504.13,92.8 L504.34,93.6 L504.55,94.0 L504.75,93.1 L504.96,92.7 L505.17,92.7 L505.38,93.8 L505.58,93.9 L505.79,94.0 L506.00,94.0 L506.0,94.0 Z" fill="#8c8c8c" stroke="#000" stroke-width="0.65" stroke-linejoin="miter"/>
<path d="M442.00,93.6 L442.35,94.0 L442.71,94.0 L443.06,93.7 L443.41,93.7 L443.76,94.0 L444.12,94.0 L444.47,94.0 L444.82,94.0 L445.18,94.0 L445.53,93.5 L445.88,94.0 L446.24,93.7 L446.59,94.0 L446.94,94.0 L447.29,93.3 L447.65,93.5 L448.00,94.0 L448.34,92.9 L448.68,94.0 L449.03,94.0 L449.37,94.0 L449.71,93.7 L450.05,93.8 L450.39,93.9 L450.74,94.0 L451.08,94.0 L451.42,93.9 L451.76,92.8 L452.11,94.0 L452.45,93.2 L452.79,93.4 L453.13,93.9 L453.47,91.8 L453.82,94.0 L454.16,93.3 L454.50,93.0 L454.87,92.7 L455.23,91.8 L455.60,90.6 L455.97,91.3 L456.33,89.3 L456.70,90.9 L457.07,90.8 L457.43,90.2 L457.80,89.5 L458.14,91.2 L458.49,89.7 L458.83,85.0 L459.17,89.2 L459.51,89.6 L459.86,85.2 L460.20,85.3 L460.54,83.4 L460.89,81.2 L461.23,80.7 L461.57,83.7 L461.91,79.0 L462.26,81.2 L462.60,79.0 L462.94,74.1 L463.28,76.7 L463.62,73.5 L463.96,75.3 L464.30,73.0 L464.62,70.8 L464.94,70.4 L465.26,71.1 L465.58,68.0 L465.90,67.9 L466.22,61.5 L466.54,69.3 L466.86,64.5 L467.18,58.6 L467.50,51.3 L467.86,55.0 L468.21,51.2 L468.57,55.2 L468.93,55.6 L469.29,54.1 L469.64,53.8 L470.00,54.4 L470.32,54.9 L470.64,50.0 L470.96,51.4 L471.28,54.4 L471.60,48.0 L471.92,40.7 L472.24,45.9 L472.56,44.0 L472.88,39.9 L473.20,36.4 L473.57,41.0 L473.93,51.5 L474.30,54.7 L474.62,50.1 L474.95,50.6 L475.28,59.0 L475.60,56.3 L475.94,56.1 L476.28,58.6 L476.62,60.4 L476.96,61.4 L477.30,61.3 L477.64,64.1 L477.99,60.2 L478.33,66.6 L478.67,65.6 L479.01,67.9 L479.36,67.7 L479.70,69.7 L480.04,71.2 L480.39,70.6 L480.73,75.8 L481.07,73.4 L481.41,75.0 L481.76,73.0 L482.10,72.7 L482.46,79.5 L482.81,73.4 L483.17,75.8 L483.53,77.4 L483.89,76.2 L484.24,77.7 L484.60,80.4 L484.94,80.3 L485.29,80.0 L485.63,83.3 L485.97,79.1 L486.31,82.0 L486.66,80.4 L487.00,82.8 L487.36,78.2 L487.71,79.8 L488.07,81.8 L488.43,85.9 L488.79,85.2 L489.14,83.1 L489.50,81.0 L489.84,84.7 L490.19,87.0 L490.53,84.7 L490.87,81.0 L491.21,81.9 L491.56,82.6 L491.90,83.6 L492.24,83.5 L492.59,83.7 L492.93,87.2 L493.27,89.5 L493.61,87.5 L493.96,91.8 L494.30,89.8 L494.66,91.3 L495.01,91.4 L495.37,91.6 L495.73,88.5 L496.09,89.8 L496.44,91.5 L496.80,92.9 L497.16,90.9 L497.51,91.5 L497.87,93.7 L498.22,91.7 L498.58,92.7 L498.93,92.6 L499.29,93.6 L499.64,94.0 L500.00,92.5 L500.37,94.0 L500.73,94.0 L501.10,94.0 L501.47,93.9 L501.83,94.0 L502.20,93.6 L502.57,93.7 L502.93,93.4 L503.30,94.0 L503.64,94.0 L503.98,93.7 L504.31,93.5 L504.65,94.0 L504.99,94.0 L505.32,94.0 L505.66,94.0 L506.00,94.0" fill="none" stroke="#000" stroke-width="0.5" stroke-opacity="0.7"/>
<rect x="440.8" y="30" width="67.80" height="64.40" fill="none" stroke="#777" stroke-width="0.9"/>
<line x1="483.3" y1="30" x2="483.3" y2="94.4" stroke="#666" stroke-width="0.9"/>
<line x1="483.3" y1="69" x2="508.6" y2="69" stroke="#666" stroke-width="0.9"/>
<text x="507.1" y="43.8" font-size="11" text-anchor="end" font-weight="normal" >17.9</text>
<line x1="285.3" y1="124.7" x2="287.7" y2="124.7" stroke="#555" stroke-width="0.6"/>
<line x1="286.09999999999997" y1="127.0" x2="287.7" y2="127.0" stroke="#555" stroke-width="0.6"/>
<line x1="286.09999999999997" y1="129.3" x2="287.7" y2="129.3" stroke="#555" stroke-width="0.6"/>
<line x1="286.09999999999997" y1="131.6" x2="287.7" y2="131.6" stroke="#555" stroke-width="0.6"/>
<line x1="286.09999999999997" y1="133.9" x2="287.7" y2="133.9" stroke="#555" stroke-width="0.6"/>
<line x1="286.09999999999997" y1="136.2" x2="287.7" y2="136.2" stroke="#555" stroke-width="0.6"/>
<line x1="286.09999999999997" y1="138.5" x2="287.7" y2="138.5" stroke="#555" stroke-width="0.6"/>
<line x1="286.09999999999997" y1="140.7" x2="287.7" y2="140.7" stroke="#555" stroke-width="0.6"/>
<line x1="286.09999999999997" y1="143.0" x2="287.7" y2="143.0" stroke="#555" stroke-width="0.6"/>
<line x1="285.3" y1="145.3" x2="287.7" y2="145.3" stroke="#555" stroke-width="0.6"/>
<line x1="286.09999999999997" y1="147.6" x2="287.7" y2="147.6" stroke="#555" stroke-width="0.6"/>
<line x1="286.09999999999997" y1="149.9" x2="287.7" y2="149.9" stroke="#555" stroke-width="0.6"/>
<line x1="286.09999999999997" y1="152.2" x2="287.7" y2="152.2" stroke="#555" stroke-width="0.6"/>
<line x1="286.09999999999997" y1="154.5" x2="287.7" y2="154.5" stroke="#555" stroke-width="0.6"/>
<line x1="286.09999999999997" y1="156.8" x2="287.7" y2="156.8" stroke="#555" stroke-width="0.6"/>
<line x1="286.09999999999997" y1="159.1" x2="287.7" y2="159.1" stroke="#555" stroke-width="0.6"/>
<line x1="286.09999999999997" y1="161.4" x2="287.7" y2="161.4" stroke="#555" stroke-width="0.6"/>
<line x1="286.09999999999997" y1="163.7" x2="287.7" y2="163.7" stroke="#555" stroke-width="0.6"/>
<line x1="285.3" y1="166.0" x2="287.7" y2="166.0" stroke="#555" stroke-width="0.6"/>
<line x1="286.09999999999997" y1="168.3" x2="287.7" y2="168.3" stroke="#555" stroke-width="0.6"/>
<line x1="286.09999999999997" y1="170.6" x2="287.7" y2="170.6" stroke="#555" stroke-width="0.6"/>
<line x1="286.09999999999997" y1="172.8" x2="287.7" y2="172.8" stroke="#555" stroke-width="0.6"/>
<line x1="286.09999999999997" y1="175.1" x2="287.7" y2="175.1" stroke="#555" stroke-width="0.6"/>
<line x1="286.09999999999997" y1="177.4" x2="287.7" y2="177.4" stroke="#555" stroke-width="0.6"/>
<line x1="286.09999999999997" y1="179.7" x2="287.7" y2="179.7" stroke="#555" stroke-width="0.6"/>
<line x1="286.09999999999997" y1="182.0" x2="287.7" y2="182.0" stroke="#555" stroke-width="0.6"/>
<line x1="286.09999999999997" y1="184.3" x2="287.7" y2="184.3" stroke="#555" stroke-width="0.6"/>
<line x1="285.3" y1="186.6" x2="287.7" y2="186.6" stroke="#555" stroke-width="0.6"/>
<line x1="289.7" y1="187.1" x2="289.7" y2="189.6" stroke="#777" stroke-width="0.5"/>
<line x1="291.9" y1="187.1" x2="291.9" y2="188.4" stroke="#777" stroke-width="0.5"/>
<line x1="294.2" y1="187.1" x2="294.2" y2="188.4" stroke="#777" stroke-width="0.5"/>
<line x1="296.4" y1="187.1" x2="296.4" y2="188.4" stroke="#777" stroke-width="0.5"/>
<line x1="298.6" y1="187.1" x2="298.6" y2="188.4" stroke="#777" stroke-width="0.5"/>
<line x1="300.8" y1="187.1" x2="300.8" y2="188.4" stroke="#777" stroke-width="0.5"/>
<line x1="303.1" y1="187.1" x2="303.1" y2="188.4" stroke="#777" stroke-width="0.5"/>
<line x1="305.3" y1="187.1" x2="305.3" y2="188.4" stroke="#777" stroke-width="0.5"/>
<line x1="307.5" y1="187.1" x2="307.5" y2="188.4" stroke="#777" stroke-width="0.5"/>
<line x1="309.7" y1="187.1" x2="309.7" y2="189.6" stroke="#777" stroke-width="0.5"/>
<line x1="312.0" y1="187.1" x2="312.0" y2="188.4" stroke="#777" stroke-width="0.5"/>
<line x1="314.2" y1="187.1" x2="314.2" y2="188.4" stroke="#777" stroke-width="0.5"/>
<line x1="316.4" y1="187.1" x2="316.4" y2="188.4" stroke="#777" stroke-width="0.5"/>
<line x1="318.7" y1="187.1" x2="318.7" y2="188.4" stroke="#777" stroke-width="0.5"/>
<line x1="320.9" y1="187.1" x2="320.9" y2="188.4" stroke="#777" stroke-width="0.5"/>
<line x1="323.1" y1="187.1" x2="323.1" y2="188.4" stroke="#777" stroke-width="0.5"/>
<line x1="325.3" y1="187.1" x2="325.3" y2="188.4" stroke="#777" stroke-width="0.5"/>
<line x1="327.6" y1="187.1" x2="327.6" y2="188.4" stroke="#777" stroke-width="0.5"/>
<line x1="329.8" y1="187.1" x2="329.8" y2="189.6" stroke="#777" stroke-width="0.5"/>
<line x1="332.0" y1="187.1" x2="332.0" y2="188.4" stroke="#777" stroke-width="0.5"/>
<line x1="334.3" y1="187.1" x2="334.3" y2="188.4" stroke="#777" stroke-width="0.5"/>
<line x1="336.5" y1="187.1" x2="336.5" y2="188.4" stroke="#777" stroke-width="0.5"/>
<line x1="338.7" y1="187.1" x2="338.7" y2="188.4" stroke="#777" stroke-width="0.5"/>
<line x1="340.9" y1="187.1" x2="340.9" y2="188.4" stroke="#777" stroke-width="0.5"/>
<line x1="343.2" y1="187.1" x2="343.2" y2="188.4" stroke="#777" stroke-width="0.5"/>
<line x1="345.4" y1="187.1" x2="345.4" y2="188.4" stroke="#777" stroke-width="0.5"/>
<line x1="347.6" y1="187.1" x2="347.6" y2="188.4" stroke="#777" stroke-width="0.5"/>
<line x1="349.8" y1="187.1" x2="349.8" y2="189.6" stroke="#777" stroke-width="0.5"/>
<line x1="352.1" y1="187.1" x2="352.1" y2="188.4" stroke="#777" stroke-width="0.5"/>
<line x1="354.3" y1="187.1" x2="354.3" y2="188.4" stroke="#777" stroke-width="0.5"/>
<path d="M287.9,186.7 L287.90,181.3 L288.08,181.5 L288.27,180.5 L288.45,181.4 L288.63,177.3 L288.82,178.2 L289.00,180.8 L289.20,179.2 L289.40,176.8 L289.60,178.7 L289.80,176.9 L290.00,177.7 L290.20,175.0 L290.35,172.0 L290.50,170.9 L290.70,172.2 L290.90,176.2 L291.10,178.8 L291.30,174.9 L291.50,172.4 L291.70,171.7 L291.90,171.5 L292.10,174.8 L292.30,172.6 L292.50,172.3 L292.70,171.0 L292.90,173.8 L293.10,168.0 L293.30,164.0 L293.45,158.7 L293.60,155.3 L293.80,159.5 L294.00,165.8 L294.20,163.3 L294.40,162.6 L294.60,164.9 L294.80,162.8 L295.00,166.9 L295.20,159.8 L295.40,161.0 L295.60,161.3 L295.80,157.5 L296.00,160.5 L296.20,156.2 L296.40,151.2 L296.60,149.3 L296.80,149.8 L297.00,155.9 L297.20,155.6 L297.40,161.1 L297.60,161.1 L297.80,159.1 L298.00,156.2 L298.20,158.1 L298.40,158.4 L298.60,158.4 L298.80,158.8 L299.00,163.5 L299.20,158.9 L299.40,159.6 L299.60,167.2 L299.80,166.1 L300.00,169.1 L300.20,163.0 L300.40,164.8 L300.60,161.2 L300.81,159.2 L301.03,155.3 L301.24,149.9 L301.45,143.3 L301.66,144.2 L301.88,150.6 L302.09,152.0 L302.30,153.4 L302.49,147.0 L302.67,147.9 L302.86,147.3 L303.04,144.3 L303.23,144.6 L303.41,141.4 L303.60,141.7 L303.80,140.9 L304.00,137.1 L304.20,143.5 L304.40,144.6 L304.60,136.1 L304.80,142.1 L305.00,138.0 L305.20,127.3 L305.35,123.7 L305.50,133.4 L305.73,126.5 L305.97,134.5 L306.20,132.1 L306.39,127.5 L306.57,131.4 L306.76,138.4 L306.94,140.7 L307.13,144.7 L307.31,146.3 L307.50,140.3 L307.69,139.6 L307.87,148.3 L308.06,141.7 L308.24,149.4 L308.43,144.2 L308.61,150.3 L308.80,151.4 L308.99,153.8 L309.17,153.2 L309.36,157.5 L309.54,154.7 L309.73,159.9 L309.91,159.6 L310.10,165.0 L310.32,165.8 L310.54,165.6 L310.76,167.6 L310.98,166.2 L311.20,167.6 L311.40,171.3 L311.60,171.2 L311.80,173.7 L312.00,173.1 L312.20,171.7 L312.40,173.8 L312.60,176.7 L312.80,176.6 L313.01,175.1 L313.22,179.8 L313.43,180.6 L313.63,176.9 L313.84,178.3 L314.05,176.8 L314.26,178.0 L314.47,175.9 L314.68,175.8 L314.88,177.2 L315.09,179.5 L315.30,176.1 L315.50,176.4 L315.70,178.8 L315.90,180.2 L316.10,179.0 L316.30,179.1 L316.50,181.3 L316.70,181.4 L316.90,177.9 L317.10,180.9 L317.30,177.6 L317.50,177.7 L317.70,180.5 L317.90,179.3 L318.10,181.4 L318.30,179.2 L318.50,181.4 L318.70,177.6 L318.90,176.7 L319.10,177.3 L319.30,176.7 L319.50,177.5 L319.70,179.1 L319.90,176.1 L320.10,170.8 L320.30,174.9 L320.50,178.5 L320.69,178.6 L320.87,179.6 L321.06,178.5 L321.24,176.7 L321.43,177.4 L321.61,180.1 L321.80,178.2 L322.00,180.0 L322.20,181.0 L322.40,179.6 L322.60,180.1 L322.80,180.1 L323.00,179.1 L323.20,181.8 L323.40,180.0 L323.60,181.9 L323.80,179.5 L324.00,181.8 L324.20,181.3 L324.40,180.4 L324.60,179.5 L324.80,178.2 L325.00,180.7 L325.21,179.0 L325.42,180.3 L325.62,178.5 L325.83,178.8 L326.04,179.5 L326.25,182.7 L326.46,180.2 L326.67,183.0 L326.88,180.8 L327.08,181.5 L327.29,180.6 L327.50,181.6 L327.70,179.3 L327.90,180.1 L328.10,182.4 L328.30,179.5 L328.50,181.6 L328.70,180.4 L328.90,179.6 L329.10,177.8 L329.30,177.6 L329.50,181.2 L329.70,181.2 L329.90,181.6 L330.10,182.1 L330.30,183.2 L330.50,180.6 L330.70,182.5 L330.90,182.5 L331.10,183.2 L331.30,184.6 L331.50,184.1 L331.69,184.8 L331.89,182.0 L332.08,183.8 L332.28,183.9 L332.47,184.1 L332.66,183.8 L332.86,184.6 L333.05,183.1 L333.25,185.2 L333.44,183.8 L333.64,184.4 L333.83,185.3 L334.02,184.8 L334.22,183.6 L334.41,183.5 L334.61,183.8 L334.80,184.8 L335.00,185.9 L335.20,185.6 L335.40,184.3 L335.60,184.4 L335.80,185.5 L336.00,184.2 L336.20,184.8 L336.40,183.9 L336.60,184.6 L336.80,185.5 L337.00,185.9 L337.20,185.7 L337.40,185.0 L337.60,186.5 L337.80,185.8 L338.00,184.9 L338.19,184.8 L338.39,186.7 L338.58,186.7 L338.78,186.7 L338.97,186.1 L339.16,185.4 L339.36,184.9 L339.55,185.3 L339.75,185.2 L339.94,186.7 L340.14,186.7 L340.33,186.6 L340.52,185.3 L340.72,185.5 L340.91,185.7 L341.11,186.7 L341.30,185.4 L341.50,186.7 L341.71,186.5 L341.91,186.3 L342.12,186.7 L342.32,185.7 L342.53,186.3 L342.73,185.5 L342.93,185.4 L343.14,185.3 L343.34,185.9 L343.55,185.6 L343.75,185.5 L343.96,186.7 L344.16,186.0 L344.37,186.7 L344.57,186.7 L344.77,186.7 L344.98,186.7 L345.18,186.7 L345.39,186.7 L345.59,186.7 L345.80,186.7 L346.00,186.7 L346.0,186.7 Z" fill="#8c8c8c" stroke="#000" stroke-width="0.65" stroke-linejoin="miter"/>
<path d="M287.90,182.1 L288.27,180.0 L288.63,180.8 L289.00,183.6 L289.40,182.7 L289.80,181.8 L290.20,177.8 L290.50,172.8 L290.90,178.9 L291.22,175.7 L291.54,176.5 L291.86,178.9 L292.18,177.8 L292.50,175.9 L292.90,171.9 L293.30,172.1 L293.60,167.9 L294.00,171.7 L294.33,169.6 L294.67,167.4 L295.00,167.9 L295.40,173.0 L295.80,169.9 L296.20,163.6 L296.60,161.1 L297.00,162.5 L297.40,163.0 L297.72,167.3 L298.04,163.9 L298.36,166.6 L298.68,161.5 L299.00,164.8 L299.32,163.6 L299.64,167.6 L299.96,167.0 L300.28,167.5 L300.60,159.9 L300.94,168.6 L301.28,164.7 L301.62,165.5 L301.96,153.3 L302.30,151.5 L302.62,151.0 L302.95,156.0 L303.28,152.5 L303.60,154.2 L304.00,150.1 L304.40,140.9 L304.70,144.8 L305.00,139.0 L305.20,136.2 L305.50,133.7 L305.85,140.8 L306.20,149.9 L306.52,142.4 L306.85,156.2 L307.18,147.1 L307.50,148.9 L307.82,153.5 L308.15,159.4 L308.48,157.3 L308.80,168.3 L309.12,166.1 L309.45,171.6 L309.78,166.8 L310.10,171.3 L310.47,169.3 L310.83,174.3 L311.20,173.6 L311.52,174.1 L311.84,177.1 L312.16,181.7 L312.48,180.1 L312.80,178.2 L313.16,183.3 L313.51,179.1 L313.87,178.9 L314.23,182.6 L314.59,183.5 L314.94,181.7 L315.30,184.3 L315.64,180.2 L315.99,183.8 L316.33,182.9 L316.67,182.6 L317.01,182.8 L317.36,180.3 L317.70,181.3 L318.03,181.3 L318.37,183.0 L318.70,183.4 L319.03,182.4 L319.37,180.7 L319.70,182.1 L320.10,179.3 L320.50,182.4 L320.82,179.7 L321.15,180.4 L321.48,180.9 L321.80,180.7 L322.16,183.0 L322.51,180.4 L322.87,183.4 L323.22,182.1 L323.58,182.0 L323.93,183.2 L324.29,185.8 L324.64,181.2 L325.00,181.8 L325.36,184.6 L325.71,181.6 L326.07,180.6 L326.43,182.2 L326.79,184.4 L327.14,185.2 L327.50,184.8 L327.82,184.2 L328.14,180.9 L328.46,182.6 L328.78,184.1 L329.10,182.3 L329.44,181.7 L329.79,183.3 L330.13,183.9 L330.47,183.8 L330.81,184.4 L331.16,183.6 L331.50,183.4 L331.87,186.1 L332.23,186.1 L332.60,184.9 L332.97,184.3 L333.33,185.4 L333.70,186.2 L334.07,186.7 L334.43,185.9 L334.80,186.7 L335.16,186.3 L335.51,185.3 L335.87,186.6 L336.22,186.7 L336.58,186.7 L336.93,186.7 L337.29,185.5 L337.64,186.5 L338.00,186.7 L338.37,186.0 L338.73,185.9 L339.10,186.2 L339.47,186.6 L339.83,186.7 L340.20,186.7 L340.57,186.7 L340.93,186.4 L341.30,186.7 L341.66,186.7 L342.02,186.7 L342.38,186.7 L342.75,186.7 L343.11,186.7 L343.47,186.7 L343.83,186.7 L344.19,186.7 L344.55,186.7 L344.92,186.7 L345.28,186.7 L345.64,186.7 L346.00,186.7" fill="none" stroke="#000" stroke-width="0.5" stroke-opacity="0.7"/>
<line x1="305.5" y1="123.2" x2="305.5" y2="137" stroke="#333" stroke-width="0.7"/>
<rect x="287.7" y="123.2" width="68.60" height="63.90" fill="none" stroke="#777" stroke-width="0.9"/>
<line x1="310.6" y1="123.2" x2="310.6" y2="187.1" stroke="#666" stroke-width="0.9"/>
<line x1="310.6" y1="183.2" x2="356.3" y2="183.2" stroke="#666" stroke-width="0.9"/>
<text x="349.2" y="137.5" font-size="11" text-anchor="end" font-weight="normal" >17.1</text>
<line x1="361.0" y1="125.0" x2="363.4" y2="125.0" stroke="#555" stroke-width="0.6"/>
<line x1="361.79999999999995" y1="127.3" x2="363.4" y2="127.3" stroke="#555" stroke-width="0.6"/>
<line x1="361.79999999999995" y1="129.6" x2="363.4" y2="129.6" stroke="#555" stroke-width="0.6"/>
<line x1="361.79999999999995" y1="131.8" x2="363.4" y2="131.8" stroke="#555" stroke-width="0.6"/>
<line x1="361.79999999999995" y1="134.1" x2="363.4" y2="134.1" stroke="#555" stroke-width="0.6"/>
<line x1="361.79999999999995" y1="136.4" x2="363.4" y2="136.4" stroke="#555" stroke-width="0.6"/>
<line x1="361.79999999999995" y1="138.7" x2="363.4" y2="138.7" stroke="#555" stroke-width="0.6"/>
<line x1="361.79999999999995" y1="141.0" x2="363.4" y2="141.0" stroke="#555" stroke-width="0.6"/>
<line x1="361.79999999999995" y1="143.3" x2="363.4" y2="143.3" stroke="#555" stroke-width="0.6"/>
<line x1="361.0" y1="145.5" x2="363.4" y2="145.5" stroke="#555" stroke-width="0.6"/>
<line x1="361.79999999999995" y1="147.8" x2="363.4" y2="147.8" stroke="#555" stroke-width="0.6"/>
<line x1="361.79999999999995" y1="150.1" x2="363.4" y2="150.1" stroke="#555" stroke-width="0.6"/>
<line x1="361.79999999999995" y1="152.4" x2="363.4" y2="152.4" stroke="#555" stroke-width="0.6"/>
<line x1="361.79999999999995" y1="154.7" x2="363.4" y2="154.7" stroke="#555" stroke-width="0.6"/>
<line x1="361.79999999999995" y1="156.9" x2="363.4" y2="156.9" stroke="#555" stroke-width="0.6"/>
<line x1="361.79999999999995" y1="159.2" x2="363.4" y2="159.2" stroke="#555" stroke-width="0.6"/>
<line x1="361.79999999999995" y1="161.5" x2="363.4" y2="161.5" stroke="#555" stroke-width="0.6"/>
<line x1="361.79999999999995" y1="163.8" x2="363.4" y2="163.8" stroke="#555" stroke-width="0.6"/>
<line x1="361.0" y1="166.1" x2="363.4" y2="166.1" stroke="#555" stroke-width="0.6"/>
<line x1="361.79999999999995" y1="168.3" x2="363.4" y2="168.3" stroke="#555" stroke-width="0.6"/>
<line x1="361.79999999999995" y1="170.6" x2="363.4" y2="170.6" stroke="#555" stroke-width="0.6"/>
<line x1="361.79999999999995" y1="172.9" x2="363.4" y2="172.9" stroke="#555" stroke-width="0.6"/>
<line x1="361.79999999999995" y1="175.2" x2="363.4" y2="175.2" stroke="#555" stroke-width="0.6"/>
<line x1="361.79999999999995" y1="177.5" x2="363.4" y2="177.5" stroke="#555" stroke-width="0.6"/>
<line x1="361.79999999999995" y1="179.8" x2="363.4" y2="179.8" stroke="#555" stroke-width="0.6"/>
<line x1="361.79999999999995" y1="182.0" x2="363.4" y2="182.0" stroke="#555" stroke-width="0.6"/>
<line x1="361.79999999999995" y1="184.3" x2="363.4" y2="184.3" stroke="#555" stroke-width="0.6"/>
<line x1="361.0" y1="186.6" x2="363.4" y2="186.6" stroke="#555" stroke-width="0.6"/>
<line x1="365.4" y1="187.1" x2="365.4" y2="189.6" stroke="#777" stroke-width="0.5"/>
<line x1="367.6" y1="187.1" x2="367.6" y2="188.4" stroke="#777" stroke-width="0.5"/>
<line x1="369.9" y1="187.1" x2="369.9" y2="188.4" stroke="#777" stroke-width="0.5"/>
<line x1="372.1" y1="187.1" x2="372.1" y2="188.4" stroke="#777" stroke-width="0.5"/>
<line x1="374.3" y1="187.1" x2="374.3" y2="188.4" stroke="#777" stroke-width="0.5"/>
<line x1="376.5" y1="187.1" x2="376.5" y2="188.4" stroke="#777" stroke-width="0.5"/>
<line x1="378.8" y1="187.1" x2="378.8" y2="188.4" stroke="#777" stroke-width="0.5"/>
<line x1="381.0" y1="187.1" x2="381.0" y2="188.4" stroke="#777" stroke-width="0.5"/>
<line x1="383.2" y1="187.1" x2="383.2" y2="188.4" stroke="#777" stroke-width="0.5"/>
<line x1="385.4" y1="187.1" x2="385.4" y2="189.6" stroke="#777" stroke-width="0.5"/>
<line x1="387.7" y1="187.1" x2="387.7" y2="188.4" stroke="#777" stroke-width="0.5"/>
<line x1="389.9" y1="187.1" x2="389.9" y2="188.4" stroke="#777" stroke-width="0.5"/>
<line x1="392.1" y1="187.1" x2="392.1" y2="188.4" stroke="#777" stroke-width="0.5"/>
<line x1="394.4" y1="187.1" x2="394.4" y2="188.4" stroke="#777" stroke-width="0.5"/>
<line x1="396.6" y1="187.1" x2="396.6" y2="188.4" stroke="#777" stroke-width="0.5"/>
<line x1="398.8" y1="187.1" x2="398.8" y2="188.4" stroke="#777" stroke-width="0.5"/>
<line x1="401.0" y1="187.1" x2="401.0" y2="188.4" stroke="#777" stroke-width="0.5"/>
<line x1="403.3" y1="187.1" x2="403.3" y2="188.4" stroke="#777" stroke-width="0.5"/>
<line x1="405.5" y1="187.1" x2="405.5" y2="189.6" stroke="#777" stroke-width="0.5"/>
<line x1="407.7" y1="187.1" x2="407.7" y2="188.4" stroke="#777" stroke-width="0.5"/>
<line x1="410.0" y1="187.1" x2="410.0" y2="188.4" stroke="#777" stroke-width="0.5"/>
<line x1="412.2" y1="187.1" x2="412.2" y2="188.4" stroke="#777" stroke-width="0.5"/>
<line x1="414.4" y1="187.1" x2="414.4" y2="188.4" stroke="#777" stroke-width="0.5"/>
<line x1="416.6" y1="187.1" x2="416.6" y2="188.4" stroke="#777" stroke-width="0.5"/>
<line x1="418.9" y1="187.1" x2="418.9" y2="188.4" stroke="#777" stroke-width="0.5"/>
<line x1="421.1" y1="187.1" x2="421.1" y2="188.4" stroke="#777" stroke-width="0.5"/>
<line x1="423.3" y1="187.1" x2="423.3" y2="188.4" stroke="#777" stroke-width="0.5"/>
<line x1="425.5" y1="187.1" x2="425.5" y2="189.6" stroke="#777" stroke-width="0.5"/>
<line x1="427.8" y1="187.1" x2="427.8" y2="188.4" stroke="#777" stroke-width="0.5"/>
<line x1="430.0" y1="187.1" x2="430.0" y2="188.4" stroke="#777" stroke-width="0.5"/>
<path d="M363.6,186.7 L363.60,169.4 L363.80,175.3 L364.00,178.0 L364.20,180.8 L364.40,180.4 L364.59,183.6 L364.78,180.8 L364.97,181.9 L365.16,183.0 L365.34,183.7 L365.53,181.1 L365.72,182.7 L365.91,180.7 L366.10,179.7 L366.30,179.1 L366.50,178.0 L366.70,177.2 L366.90,176.6 L367.10,177.4 L367.30,177.2 L367.50,171.5 L367.70,170.2 L367.90,175.2 L368.10,173.6 L368.30,173.7 L368.50,172.7 L368.70,173.4 L368.90,173.5 L369.10,170.1 L369.30,169.2 L369.50,168.4 L369.70,174.5 L369.90,170.7 L370.10,173.6 L370.30,175.0 L370.50,170.8 L370.70,173.7 L370.90,175.2 L371.09,173.0 L371.28,173.4 L371.47,169.3 L371.66,170.4 L371.84,167.5 L372.03,170.3 L372.22,165.7 L372.41,165.3 L372.60,167.4 L372.80,165.1 L373.00,164.5 L373.20,159.6 L373.40,159.5 L373.60,160.9 L373.80,159.0 L374.00,157.5 L374.20,155.9 L374.40,151.3 L374.60,150.2 L374.80,152.1 L375.00,151.7 L375.20,148.9 L375.40,147.6 L375.60,146.0 L375.80,143.9 L376.00,145.0 L376.20,148.9 L376.40,149.4 L376.60,143.0 L376.80,144.5 L377.00,142.4 L377.20,139.6 L377.40,137.4 L377.59,137.0 L377.78,132.2 L377.97,134.0 L378.16,131.3 L378.34,135.0 L378.53,139.4 L378.72,140.5 L378.91,135.7 L379.10,139.0 L379.32,133.4 L379.54,130.0 L379.76,124.0 L379.98,127.0 L380.20,124.0 L380.39,127.8 L380.57,127.7 L380.76,133.0 L380.94,133.4 L381.13,136.8 L381.31,133.8 L381.50,137.1 L381.70,138.2 L381.90,139.3 L382.10,135.8 L382.30,141.3 L382.50,142.7 L382.70,142.3 L382.90,145.8 L383.10,146.7 L383.31,144.2 L383.53,145.6 L383.74,145.6 L383.95,154.8 L384.16,159.4 L384.38,159.7 L384.59,160.9 L384.80,160.0 L385.00,159.4 L385.20,154.7 L385.40,160.6 L385.60,160.7 L385.80,162.8 L386.00,162.7 L386.20,165.8 L386.40,168.5 L386.60,169.1 L386.80,171.0 L387.00,168.9 L387.20,171.6 L387.38,173.4 L387.57,174.9 L387.75,171.1 L387.93,172.1 L388.12,170.0 L388.30,164.5 L388.51,165.5 L388.73,163.1 L388.94,161.0 L389.15,160.5 L389.36,162.9 L389.57,164.1 L389.79,166.4 L390.00,167.7 L390.19,166.7 L390.38,162.2 L390.57,159.6 L390.76,155.0 L390.95,151.8 L391.15,156.7 L391.34,150.5 L391.53,153.7 L391.72,153.1 L391.91,154.3 L392.10,152.4 L392.30,157.9 L392.50,154.8 L392.70,152.8 L392.90,158.0 L393.10,154.6 L393.30,156.3 L393.50,150.2 L393.70,147.8 L393.90,146.7 L394.10,142.3 L394.30,136.6 L394.50,137.5 L394.70,133.7 L394.90,131.4 L395.10,131.9 L395.30,138.3 L395.51,140.4 L395.73,143.6 L395.94,141.4 L396.15,135.8 L396.36,131.1 L396.57,135.0 L396.79,125.9 L397.00,126.0 L397.20,130.2 L397.40,131.5 L397.60,127.7 L397.80,133.1 L398.00,136.3 L398.20,131.1 L398.40,131.2 L398.60,128.9 L398.80,129.1 L399.00,135.5 L399.20,129.8 L399.40,135.2 L399.60,134.7 L399.80,130.8 L400.00,126.7 L400.20,132.7 L400.40,127.2 L400.60,128.1 L400.80,128.8 L401.00,136.9 L401.20,133.8 L401.40,132.0 L401.60,133.9 L401.80,130.6 L402.01,135.3 L402.22,131.8 L402.43,128.5 L402.63,131.4 L402.84,130.3 L403.05,124.0 L403.26,126.0 L403.47,124.0 L403.68,129.1 L403.88,128.7 L404.09,124.6 L404.30,125.9 L404.49,126.4 L404.67,135.2 L404.86,129.3 L405.04,133.1 L405.23,132.5 L405.41,133.6 L405.60,132.8 L405.80,133.9 L406.00,128.0 L406.20,135.8 L406.40,133.8 L406.60,137.9 L406.80,138.2 L407.00,140.9 L407.20,145.9 L407.40,147.9 L407.60,149.6 L407.80,152.5 L408.00,151.0 L408.20,146.4 L408.40,147.9 L408.60,150.2 L408.80,154.5 L409.00,154.9 L409.20,153.1 L409.40,150.7 L409.60,157.9 L409.80,157.0 L410.00,159.6 L410.20,161.3 L410.40,161.5 L410.60,161.3 L410.80,164.9 L411.01,162.2 L411.22,163.0 L411.43,166.7 L411.64,162.9 L411.86,162.8 L412.07,165.5 L412.28,160.3 L412.49,166.1 L412.70,168.6 L412.91,170.0 L413.12,172.1 L413.34,175.5 L413.55,175.8 L413.76,171.2 L413.97,172.8 L414.19,173.2 L414.40,173.0 L414.60,172.5 L414.80,172.1 L415.00,175.8 L415.20,178.4 L415.40,176.4 L415.60,178.4 L415.80,181.5 L416.00,181.9 L416.19,181.5 L416.38,179.3 L416.57,182.2 L416.76,183.5 L416.95,183.8 L417.15,183.1 L417.34,181.3 L417.53,184.4 L417.72,182.9 L417.91,184.6 L418.10,185.9 L418.30,185.4 L418.50,183.9 L418.70,184.5 L418.90,186.4 L419.10,184.2 L419.30,185.4 L419.50,184.8 L419.70,184.2 L419.90,185.6 L420.10,184.2 L420.30,184.5 L420.50,185.3 L420.69,184.6 L420.89,184.7 L421.08,186.0 L421.28,186.4 L421.47,186.7 L421.67,184.9 L421.86,185.5 L422.06,185.2 L422.25,186.0 L422.44,185.8 L422.64,186.7 L422.83,185.7 L423.03,185.2 L423.22,186.6 L423.42,185.6 L423.61,186.6 L423.81,186.4 L424.00,186.7 L424.0,186.7 Z" fill="#8c8c8c" stroke="#000" stroke-width="0.65" stroke-linejoin="miter"/>
<path d="M363.60,177.9 L364.00,182.3 L364.40,185.4 L364.74,183.2 L365.08,183.0 L365.42,182.7 L365.76,183.7 L366.10,182.5 L366.42,182.1 L366.74,184.3 L367.06,181.8 L367.38,179.4 L367.70,178.1 L368.02,176.3 L368.34,177.1 L368.66,175.5 L368.98,171.2 L369.30,170.9 L369.62,175.4 L369.94,178.5 L370.26,176.4 L370.58,175.1 L370.90,179.4 L371.24,173.4 L371.58,172.0 L371.92,174.5 L372.26,172.0 L372.60,170.1 L372.92,169.7 L373.24,171.7 L373.56,169.2 L373.88,165.7 L374.20,161.4 L374.52,158.7 L374.84,162.6 L375.16,157.2 L375.48,158.7 L375.80,148.6 L376.12,149.9 L376.44,146.1 L376.76,146.6 L377.08,139.5 L377.40,140.9 L377.74,141.0 L378.08,137.7 L378.42,136.2 L378.76,134.6 L379.10,140.9 L379.47,134.0 L379.83,140.7 L380.20,139.0 L380.52,141.4 L380.85,136.2 L381.18,138.6 L381.50,139.3 L381.82,145.5 L382.14,149.8 L382.46,147.6 L382.78,153.7 L383.10,152.4 L383.44,150.3 L383.78,153.4 L384.12,155.6 L384.46,156.9 L384.80,158.0 L385.12,163.0 L385.44,167.1 L385.76,172.1 L386.08,170.1 L386.40,170.1 L386.80,173.6 L387.20,172.0 L387.57,170.2 L387.93,171.1 L388.30,169.4 L388.64,173.2 L388.98,172.8 L389.32,168.7 L389.66,166.0 L390.00,163.4 L390.35,163.7 L390.70,163.1 L391.05,163.9 L391.40,162.4 L391.75,160.6 L392.10,157.6 L392.42,160.8 L392.74,153.6 L393.06,152.6 L393.38,150.1 L393.70,150.9 L394.02,148.0 L394.34,150.4 L394.66,145.1 L394.98,152.1 L395.30,148.5 L395.64,146.3 L395.98,142.5 L396.32,145.1 L396.66,141.6 L397.00,136.9 L397.34,141.1 L397.69,139.6 L398.03,145.0 L398.37,142.8 L398.71,142.2 L399.06,136.7 L399.40,140.9 L399.74,134.8 L400.09,131.4 L400.43,132.7 L400.77,134.7 L401.11,132.6 L401.46,136.2 L401.80,131.9 L402.16,129.1 L402.51,135.8 L402.87,133.3 L403.23,128.0 L403.59,128.6 L403.94,130.5 L404.30,132.5 L404.62,136.8 L404.95,142.2 L405.28,138.9 L405.60,135.3 L405.92,139.5 L406.24,141.1 L406.56,146.7 L406.88,150.5 L407.20,156.1 L407.53,154.1 L407.87,154.4 L408.20,152.2 L408.53,158.9 L408.87,157.4 L409.20,162.9 L409.52,161.8 L409.84,166.4 L410.16,165.6 L410.48,161.8 L410.80,165.3 L411.18,171.0 L411.56,169.4 L411.94,170.4 L412.32,170.9 L412.70,174.9 L413.04,175.8 L413.38,175.5 L413.72,178.4 L414.06,176.7 L414.40,174.2 L414.72,179.8 L415.04,178.6 L415.36,177.8 L415.68,183.5 L416.00,181.0 L416.35,183.7 L416.70,183.7 L417.05,185.7 L417.40,184.6 L417.75,184.4 L418.10,185.1 L418.44,185.1 L418.79,186.4 L419.13,186.1 L419.47,186.7 L419.81,186.1 L420.16,186.2 L420.50,185.9 L420.85,186.7 L421.20,186.7 L421.55,186.7 L421.90,186.7 L422.25,186.7 L422.60,186.3 L422.95,186.7 L423.30,186.7 L423.65,186.5 L424.00,186.7" fill="none" stroke="#000" stroke-width="0.5" stroke-opacity="0.7"/>
<rect x="363.4" y="123.5" width="68.60" height="63.60" fill="none" stroke="#777" stroke-width="0.9"/>
<line x1="386.8" y1="123.5" x2="386.8" y2="187.1" stroke="#666" stroke-width="0.9"/>
<line x1="386.8" y1="185.2" x2="432" y2="185.2" stroke="#666" stroke-width="0.9"/>
<text x="430.8" y="138.8" font-size="11" text-anchor="end" font-weight="normal" >55.1</text>
<line x1="438.0" y1="125.0" x2="440.4" y2="125.0" stroke="#555" stroke-width="0.6"/>
<line x1="438.79999999999995" y1="127.3" x2="440.4" y2="127.3" stroke="#555" stroke-width="0.6"/>
<line x1="438.79999999999995" y1="129.6" x2="440.4" y2="129.6" stroke="#555" stroke-width="0.6"/>
<line x1="438.79999999999995" y1="131.8" x2="440.4" y2="131.8" stroke="#555" stroke-width="0.6"/>
<line x1="438.79999999999995" y1="134.1" x2="440.4" y2="134.1" stroke="#555" stroke-width="0.6"/>
<line x1="438.79999999999995" y1="136.4" x2="440.4" y2="136.4" stroke="#555" stroke-width="0.6"/>
<line x1="438.79999999999995" y1="138.7" x2="440.4" y2="138.7" stroke="#555" stroke-width="0.6"/>
<line x1="438.79999999999995" y1="141.0" x2="440.4" y2="141.0" stroke="#555" stroke-width="0.6"/>
<line x1="438.79999999999995" y1="143.3" x2="440.4" y2="143.3" stroke="#555" stroke-width="0.6"/>
<line x1="438.0" y1="145.5" x2="440.4" y2="145.5" stroke="#555" stroke-width="0.6"/>
<line x1="438.79999999999995" y1="147.8" x2="440.4" y2="147.8" stroke="#555" stroke-width="0.6"/>
<line x1="438.79999999999995" y1="150.1" x2="440.4" y2="150.1" stroke="#555" stroke-width="0.6"/>
<line x1="438.79999999999995" y1="152.4" x2="440.4" y2="152.4" stroke="#555" stroke-width="0.6"/>
<line x1="438.79999999999995" y1="154.7" x2="440.4" y2="154.7" stroke="#555" stroke-width="0.6"/>
<line x1="438.79999999999995" y1="156.9" x2="440.4" y2="156.9" stroke="#555" stroke-width="0.6"/>
<line x1="438.79999999999995" y1="159.2" x2="440.4" y2="159.2" stroke="#555" stroke-width="0.6"/>
<line x1="438.79999999999995" y1="161.5" x2="440.4" y2="161.5" stroke="#555" stroke-width="0.6"/>
<line x1="438.79999999999995" y1="163.8" x2="440.4" y2="163.8" stroke="#555" stroke-width="0.6"/>
<line x1="438.0" y1="166.1" x2="440.4" y2="166.1" stroke="#555" stroke-width="0.6"/>
<line x1="438.79999999999995" y1="168.3" x2="440.4" y2="168.3" stroke="#555" stroke-width="0.6"/>
<line x1="438.79999999999995" y1="170.6" x2="440.4" y2="170.6" stroke="#555" stroke-width="0.6"/>
<line x1="438.79999999999995" y1="172.9" x2="440.4" y2="172.9" stroke="#555" stroke-width="0.6"/>
<line x1="438.79999999999995" y1="175.2" x2="440.4" y2="175.2" stroke="#555" stroke-width="0.6"/>
<line x1="438.79999999999995" y1="177.5" x2="440.4" y2="177.5" stroke="#555" stroke-width="0.6"/>
<line x1="438.79999999999995" y1="179.8" x2="440.4" y2="179.8" stroke="#555" stroke-width="0.6"/>
<line x1="438.79999999999995" y1="182.0" x2="440.4" y2="182.0" stroke="#555" stroke-width="0.6"/>
<line x1="438.79999999999995" y1="184.3" x2="440.4" y2="184.3" stroke="#555" stroke-width="0.6"/>
<line x1="438.0" y1="186.6" x2="440.4" y2="186.6" stroke="#555" stroke-width="0.6"/>
<line x1="442.4" y1="187.1" x2="442.4" y2="189.6" stroke="#777" stroke-width="0.5"/>
<line x1="444.6" y1="187.1" x2="444.6" y2="188.4" stroke="#777" stroke-width="0.5"/>
<line x1="446.8" y1="187.1" x2="446.8" y2="188.4" stroke="#777" stroke-width="0.5"/>
<line x1="449.0" y1="187.1" x2="449.0" y2="188.4" stroke="#777" stroke-width="0.5"/>
<line x1="451.2" y1="187.1" x2="451.2" y2="188.4" stroke="#777" stroke-width="0.5"/>
<line x1="453.4" y1="187.1" x2="453.4" y2="188.4" stroke="#777" stroke-width="0.5"/>
<line x1="455.6" y1="187.1" x2="455.6" y2="188.4" stroke="#777" stroke-width="0.5"/>
<line x1="457.8" y1="187.1" x2="457.8" y2="188.4" stroke="#777" stroke-width="0.5"/>
<line x1="459.9" y1="187.1" x2="459.9" y2="188.4" stroke="#777" stroke-width="0.5"/>
<line x1="462.1" y1="187.1" x2="462.1" y2="189.6" stroke="#777" stroke-width="0.5"/>
<line x1="464.3" y1="187.1" x2="464.3" y2="188.4" stroke="#777" stroke-width="0.5"/>
<line x1="466.5" y1="187.1" x2="466.5" y2="188.4" stroke="#777" stroke-width="0.5"/>
<line x1="468.7" y1="187.1" x2="468.7" y2="188.4" stroke="#777" stroke-width="0.5"/>
<line x1="470.9" y1="187.1" x2="470.9" y2="188.4" stroke="#777" stroke-width="0.5"/>
<line x1="473.1" y1="187.1" x2="473.1" y2="188.4" stroke="#777" stroke-width="0.5"/>
<line x1="475.3" y1="187.1" x2="475.3" y2="188.4" stroke="#777" stroke-width="0.5"/>
<line x1="477.5" y1="187.1" x2="477.5" y2="188.4" stroke="#777" stroke-width="0.5"/>
<line x1="479.7" y1="187.1" x2="479.7" y2="188.4" stroke="#777" stroke-width="0.5"/>
<line x1="481.9" y1="187.1" x2="481.9" y2="189.6" stroke="#777" stroke-width="0.5"/>
<line x1="484.1" y1="187.1" x2="484.1" y2="188.4" stroke="#777" stroke-width="0.5"/>
<line x1="486.3" y1="187.1" x2="486.3" y2="188.4" stroke="#777" stroke-width="0.5"/>
<line x1="488.5" y1="187.1" x2="488.5" y2="188.4" stroke="#777" stroke-width="0.5"/>
<line x1="490.6" y1="187.1" x2="490.6" y2="188.4" stroke="#777" stroke-width="0.5"/>
<line x1="492.8" y1="187.1" x2="492.8" y2="188.4" stroke="#777" stroke-width="0.5"/>
<line x1="495.0" y1="187.1" x2="495.0" y2="188.4" stroke="#777" stroke-width="0.5"/>
<line x1="497.2" y1="187.1" x2="497.2" y2="188.4" stroke="#777" stroke-width="0.5"/>
<line x1="499.4" y1="187.1" x2="499.4" y2="188.4" stroke="#777" stroke-width="0.5"/>
<line x1="501.6" y1="187.1" x2="501.6" y2="189.6" stroke="#777" stroke-width="0.5"/>
<line x1="503.8" y1="187.1" x2="503.8" y2="188.4" stroke="#777" stroke-width="0.5"/>
<line x1="506.0" y1="187.1" x2="506.0" y2="188.4" stroke="#777" stroke-width="0.5"/>
<path d="M440.9,186.7 L440.90,183.9 L441.10,179.9 L441.30,181.5 L441.50,179.7 L441.70,177.2 L441.90,177.5 L442.10,174.9 L442.32,176.0 L442.54,175.2 L442.76,173.2 L442.98,172.3 L443.20,173.0 L443.39,172.7 L443.57,172.3 L443.76,176.9 L443.94,175.6 L444.13,177.7 L444.31,179.1 L444.50,176.4 L444.69,174.3 L444.87,173.3 L445.06,174.0 L445.24,171.1 L445.43,168.7 L445.61,167.9 L445.80,169.6 L446.02,166.3 L446.24,167.8 L446.46,171.2 L446.68,168.4 L446.90,164.5 L447.09,163.7 L447.28,161.7 L447.47,159.9 L447.66,162.3 L447.84,162.8 L448.03,167.3 L448.22,163.2 L448.41,163.4 L448.60,163.5 L448.80,161.9 L449.00,158.5 L449.20,162.2 L449.40,162.4 L449.60,165.0 L449.80,165.8 L450.00,166.3 L450.20,165.7 L450.40,158.5 L450.60,154.1 L450.80,155.3 L451.00,150.4 L451.20,148.3 L451.40,152.0 L451.60,145.6 L451.80,148.7 L452.00,144.9 L452.20,149.1 L452.40,149.0 L452.60,143.3 L452.80,144.9 L453.00,151.3 L453.20,148.9 L453.40,147.6 L453.59,150.2 L453.78,150.2 L453.97,147.2 L454.16,146.7 L454.34,143.2 L454.53,144.8 L454.72,140.9 L454.91,143.1 L455.10,140.9 L455.32,134.4 L455.54,136.3 L455.76,129.0 L455.98,126.6 L456.20,130.3 L456.40,128.6 L456.60,132.8 L456.80,130.2 L457.00,129.3 L457.20,124.0 L457.38,126.4 L457.57,124.0 L457.75,124.0 L457.93,129.5 L458.12,132.4 L458.30,135.2 L458.50,131.6 L458.70,131.2 L458.90,129.4 L459.10,124.0 L459.32,128.5 L459.53,132.2 L459.75,131.7 L459.97,139.0 L460.18,138.7 L460.40,138.0 L460.60,143.4 L460.80,139.0 L461.00,146.7 L461.20,149.5 L461.40,144.8 L461.60,151.5 L461.82,145.6 L462.04,152.4 L462.26,148.6 L462.48,154.4 L462.70,154.3 L462.89,160.7 L463.07,157.3 L463.26,160.4 L463.44,166.7 L463.63,166.7 L463.81,167.2 L464.00,165.3 L464.19,166.8 L464.37,168.3 L464.56,167.0 L464.74,172.7 L464.93,172.0 L465.11,173.9 L465.30,173.6 L465.50,172.2 L465.70,171.5 L465.90,176.0 L466.10,174.3 L466.30,177.6 L466.50,178.3 L466.70,178.3 L466.90,176.3 L467.09,175.7 L467.28,177.2 L467.47,175.0 L467.66,177.4 L467.84,175.9 L468.03,176.7 L468.22,176.3 L468.41,178.4 L468.60,177.8 L468.80,176.7 L469.00,175.6 L469.20,175.4 L469.40,175.1 L469.60,170.4 L469.80,168.2 L470.00,169.8 L470.20,170.4 L470.38,174.9 L470.57,177.8 L470.75,177.2 L470.93,176.0 L471.12,177.4 L471.30,178.4 L471.51,178.2 L471.73,177.6 L471.94,179.8 L472.15,177.5 L472.36,178.0 L472.57,178.3 L472.79,178.0 L473.00,178.7 L473.18,175.6 L473.37,175.7 L473.55,176.0 L473.73,171.0 L473.92,173.1 L474.10,171.7 L474.32,172.1 L474.53,173.6 L474.75,176.6 L474.97,173.1 L475.18,175.8 L475.40,174.3 L475.59,176.0 L475.78,175.2 L475.97,178.2 L476.16,179.7 L476.35,176.6 L476.54,177.6 L476.73,178.8 L476.92,175.2 L477.11,175.4 L477.30,176.0 L477.50,176.5 L477.70,172.9 L477.90,175.5 L478.10,173.1 L478.30,173.3 L478.50,177.7 L478.70,173.5 L478.90,177.8 L479.10,177.2 L479.30,177.1 L479.50,177.5 L479.70,177.3 L479.90,175.8 L480.10,176.6 L480.30,176.0 L480.50,179.5 L480.70,179.6 L480.90,180.0 L481.10,177.0 L481.30,178.3 L481.50,176.4 L481.70,178.4 L481.90,178.9 L482.10,180.7 L482.30,180.1 L482.50,180.7 L482.70,181.1 L482.90,178.3 L483.10,180.5 L483.30,178.2 L483.50,179.4 L483.71,178.3 L483.92,181.7 L484.12,178.0 L484.33,182.1 L484.54,182.6 L484.75,181.1 L484.96,182.9 L485.17,180.0 L485.38,180.4 L485.58,180.1 L485.79,180.5 L486.00,180.7 L486.20,183.7 L486.40,181.4 L486.60,183.3 L486.80,182.4 L487.00,182.1 L487.20,183.2 L487.40,182.6 L487.60,185.4 L487.80,183.8 L488.00,184.7 L488.20,184.6 L488.40,184.7 L488.60,184.1 L488.80,183.4 L489.00,183.0 L489.20,185.3 L489.40,183.3 L489.59,184.1 L489.79,185.2 L489.98,184.5 L490.18,185.7 L490.37,185.3 L490.57,184.5 L490.76,183.4 L490.96,184.8 L491.15,184.5 L491.35,185.6 L491.54,184.6 L491.74,185.0 L491.93,185.3 L492.13,184.4 L492.32,185.7 L492.52,186.0 L492.71,184.3 L492.91,186.5 L493.10,186.2 L493.30,186.1 L493.50,184.6 L493.70,184.3 L493.90,184.0 L494.10,184.7 L494.30,185.9 L494.50,184.7 L494.70,183.8 L494.90,184.6 L495.10,184.1 L495.30,185.5 L495.50,185.9 L495.70,186.4 L495.90,184.5 L496.10,185.3 L496.30,184.8 L496.50,186.7 L496.69,186.7 L496.89,186.1 L497.08,186.7 L497.28,186.1 L497.47,186.7 L497.67,186.1 L497.86,185.8 L498.06,186.7 L498.25,186.7 L498.44,186.2 L498.64,186.7 L498.83,186.4 L499.03,186.7 L499.22,185.2 L499.42,185.3 L499.61,185.3 L499.81,186.4 L500.00,186.6 L500.0,186.7 Z" fill="#8c8c8c" stroke="#000" stroke-width="0.65" stroke-linejoin="miter"/>
<path d="M440.90,184.9 L441.30,184.6 L441.70,180.8 L442.10,182.1 L442.47,180.3 L442.83,176.3 L443.20,178.6 L443.52,175.8 L443.85,175.5 L444.18,177.0 L444.50,181.5 L444.82,177.7 L445.15,178.5 L445.48,176.5 L445.80,173.0 L446.17,174.0 L446.53,170.7 L446.90,171.9 L447.24,171.6 L447.58,170.9 L447.92,170.0 L448.26,167.2 L448.60,169.7 L448.92,170.7 L449.24,165.8 L449.56,165.6 L449.88,167.0 L450.20,162.6 L450.52,162.4 L450.84,168.0 L451.16,163.0 L451.48,163.5 L451.80,161.0 L452.12,164.3 L452.44,155.4 L452.76,162.5 L453.08,154.5 L453.40,152.8 L453.74,152.6 L454.08,146.7 L454.42,148.6 L454.76,147.6 L455.10,142.5 L455.47,140.4 L455.83,139.5 L456.20,138.0 L456.53,131.6 L456.87,134.1 L457.20,129.5 L457.57,132.0 L457.93,137.4 L458.30,146.3 L458.70,145.0 L459.10,142.0 L459.43,142.7 L459.75,145.1 L460.07,139.7 L460.40,140.5 L460.80,145.3 L461.20,150.5 L461.60,148.7 L461.97,150.6 L462.33,154.2 L462.70,161.3 L463.02,168.7 L463.35,167.3 L463.68,171.6 L464.00,171.3 L464.32,174.9 L464.65,177.4 L464.98,173.9 L465.30,178.6 L465.62,175.4 L465.94,176.0 L466.26,178.6 L466.58,180.3 L466.90,179.3 L467.24,179.6 L467.58,178.7 L467.92,178.4 L468.26,177.9 L468.60,177.2 L468.92,177.5 L469.24,176.4 L469.56,177.0 L469.88,176.7 L470.20,174.5 L470.57,175.7 L470.93,177.7 L471.30,181.3 L471.64,179.5 L471.98,179.8 L472.32,180.0 L472.66,182.2 L473.00,179.5 L473.37,177.7 L473.73,176.6 L474.10,177.4 L474.43,180.8 L474.75,180.9 L475.07,180.8 L475.40,179.4 L475.78,182.9 L476.16,181.9 L476.54,179.6 L476.92,181.0 L477.30,184.0 L477.67,179.1 L478.03,179.6 L478.40,182.1 L478.77,180.3 L479.13,179.7 L479.50,178.6 L479.82,181.9 L480.14,179.5 L480.46,179.3 L480.78,180.9 L481.10,180.2 L481.44,183.5 L481.79,181.5 L482.13,182.5 L482.47,181.2 L482.81,182.5 L483.16,181.8 L483.50,182.5 L483.86,185.2 L484.21,181.2 L484.57,183.1 L484.93,184.4 L485.29,183.8 L485.64,183.4 L486.00,184.5 L486.36,186.7 L486.71,183.2 L487.07,186.4 L487.42,185.3 L487.78,185.5 L488.13,186.1 L488.49,186.2 L488.84,186.5 L489.20,186.7 L489.54,185.9 L489.88,185.9 L490.23,185.7 L490.57,186.7 L490.91,186.1 L491.25,185.3 L491.59,186.6 L491.93,185.2 L492.27,185.7 L492.62,186.7 L492.96,186.7 L493.30,186.7 L493.66,186.7 L494.01,186.7 L494.37,186.7 L494.72,186.7 L495.08,186.0 L495.43,186.7 L495.79,186.4 L496.14,186.7 L496.50,186.7 L496.85,186.5 L497.20,186.1 L497.55,186.7 L497.90,186.6 L498.25,186.0 L498.60,186.7 L498.95,186.0 L499.30,186.2 L499.65,186.2 L500.00,186.7" fill="none" stroke="#000" stroke-width="0.5" stroke-opacity="0.7"/>
<line x1="457.2" y1="123.8" x2="457.2" y2="132" stroke="#333" stroke-width="0.7"/>
<line x1="459.1" y1="124.5" x2="459.1" y2="132" stroke="#333" stroke-width="0.7"/>
<line x1="470.2" y1="164.9" x2="470.2" y2="177" stroke="#333" stroke-width="0.7"/>
<line x1="474.1" y1="168.2" x2="474.1" y2="178" stroke="#333" stroke-width="0.7"/>
<line x1="477.3" y1="170" x2="477.3" y2="178" stroke="#333" stroke-width="0.7"/>
<rect x="440.4" y="123.5" width="67.60" height="63.60" fill="none" stroke="#777" stroke-width="0.9"/>
<line x1="464" y1="123.5" x2="464" y2="187.1" stroke="#666" stroke-width="0.9"/>
<line x1="464" y1="183.8" x2="508" y2="183.8" stroke="#666" stroke-width="0.9"/>
<text x="507.3" y="137.5" font-size="11" text-anchor="end" font-weight="normal" >19.4</text>
<text x="293" y="110.9" font-size="12.4" text-anchor="start" font-weight="normal" >CD54</text>
<line x1="336" y1="106.8" x2="491" y2="106.8" stroke="#000" stroke-width="2"/>
<polygon points="489.5,102.9 506,106.8 489.5,110.8" fill="#000"/>
<text x="294" y="204.3" font-size="12.4" text-anchor="start" font-weight="normal" >CD25</text>
<line x1="336" y1="200.2" x2="491" y2="200.2" stroke="#000" stroke-width="2"/>
<polygon points="489.5,196.3 506,200.2 489.5,204.2" fill="#000"/>
<text x="0.3" y="251.8" font-size="24.5" text-anchor="start" font-weight="bold" >C</text>
<line x1="41.8" y1="261.20" x2="41.8" y2="379.3" stroke="#000" stroke-width="1.3"/>
<line x1="41.199999999999996" y1="379.3" x2="249.2" y2="379.3" stroke="#000" stroke-width="1.5"/>
<line x1="38.4" y1="379.30" x2="41.8" y2="379.30" stroke="#000" stroke-width="1.1"/>
<text x="34.4" y="383.2" font-size="9.3" text-anchor="end" font-weight="normal" fill="#222">0</text>
<line x1="38.4" y1="349.90" x2="41.8" y2="349.90" stroke="#000" stroke-width="1.1"/>
<text x="34.4" y="353.8" font-size="9.3" text-anchor="end" font-weight="normal" fill="#222">10</text>
<line x1="38.4" y1="320.50" x2="41.8" y2="320.50" stroke="#000" stroke-width="1.1"/>
<text x="34.4" y="324.4" font-size="9.3" text-anchor="end" font-weight="normal" fill="#222">20</text>
<line x1="38.4" y1="291.10" x2="41.8" y2="291.10" stroke="#000" stroke-width="1.1"/>
<text x="34.4" y="295.0" font-size="9.3" text-anchor="end" font-weight="normal" fill="#222">30</text>
<line x1="38.4" y1="261.70" x2="41.8" y2="261.70" stroke="#000" stroke-width="1.1"/>
<text x="34.4" y="265.6" font-size="9.3" text-anchor="end" font-weight="normal" fill="#222">40</text>
<line x1="41.80" y1="379.3" x2="41.80" y2="381.90000000000003" stroke="#000" stroke-width="1.1"/>
<line x1="76.35" y1="379.3" x2="76.35" y2="381.90000000000003" stroke="#000" stroke-width="1.1"/>
<line x1="110.90" y1="379.3" x2="110.90" y2="381.90000000000003" stroke="#000" stroke-width="1.1"/>
<line x1="145.45" y1="379.3" x2="145.45" y2="381.90000000000003" stroke="#000" stroke-width="1.1"/>
<line x1="180.00" y1="379.3" x2="180.00" y2="381.90000000000003" stroke="#000" stroke-width="1.1"/>
<line x1="214.55" y1="379.3" x2="214.55" y2="381.90000000000003" stroke="#000" stroke-width="1.1"/>
<line x1="249.10" y1="379.3" x2="249.10" y2="381.90000000000003" stroke="#000" stroke-width="1.1"/>
<text x="58.7" y="393" font-size="7.4" text-anchor="middle" font-weight="normal" fill="#222">0.7:1</text>
<text x="93.7" y="393" font-size="7.4" text-anchor="middle" font-weight="normal" fill="#222">1.5:1</text>
<text x="128.4" y="393" font-size="7.4" text-anchor="middle" font-weight="normal" fill="#222">3.7:1</text>
<text x="162.6" y="393" font-size="7.4" text-anchor="middle" font-weight="normal" fill="#222">7.5:1</text>
<text x="197.7" y="393" font-size="7.4" text-anchor="middle" font-weight="normal" fill="#222">15:1</text>
<text x="231.8" y="393" font-size="7.4" text-anchor="middle" font-weight="normal" fill="#222">30:1</text>
<text x="144.2" y="416" font-size="16.4" text-anchor="middle" font-weight="normal" >E:T ratio</text>
<text transform="translate(13.4,320.6) rotate(-90)" font-size="16.5" text-anchor="middle">% cytotoxicity</text>
<polyline points="58.9,353.7 93.5,370.6 128.3,368.7 162.7,360.9 197.7,351.9 232.3,347.9" fill="none" stroke="#000" stroke-width="0.9"/>
<line x1="232.3" y1="342.4" x2="232.3" y2="353.4" stroke="#666" stroke-width="0.8"/>
<line x1="230.8" y1="342.4" x2="233.8" y2="342.4" stroke="#666" stroke-width="0.8"/>
<line x1="230.8" y1="353.4" x2="233.8" y2="353.4" stroke="#666" stroke-width="0.8"/>
<rect x="56.10" y="350.90" width="5.60" height="5.60" fill="#000"/>
<rect x="90.70" y="367.80" width="5.60" height="5.60" fill="#000"/>
<rect x="125.50" y="365.90" width="5.60" height="5.60" fill="#000"/>
<rect x="159.90" y="358.10" width="5.60" height="5.60" fill="#000"/>
<rect x="194.90" y="349.10" width="5.60" height="5.60" fill="#000"/>
<rect x="229.50" y="345.10" width="5.60" height="5.60" fill="#000"/>
<polyline points="58.9,341.0 93.5,356.2 128.3,351.0 162.7,338.6 197.7,313.5 232.3,302.3" fill="none" stroke="#000" stroke-width="0.9"/>
<line x1="58.9" y1="337.0" x2="58.9" y2="345.0" stroke="#666" stroke-width="0.8"/>
<line x1="57.4" y1="337.0" x2="60.4" y2="337.0" stroke="#666" stroke-width="0.8"/>
<line x1="57.4" y1="345.0" x2="60.4" y2="345.0" stroke="#666" stroke-width="0.8"/>
<line x1="93.5" y1="350.9" x2="93.5" y2="361.5" stroke="#666" stroke-width="0.8"/>
<line x1="92.0" y1="350.9" x2="95.0" y2="350.9" stroke="#666" stroke-width="0.8"/>
<line x1="92.0" y1="361.5" x2="95.0" y2="361.5" stroke="#666" stroke-width="0.8"/>
<line x1="197.7" y1="309.5" x2="197.7" y2="317.5" stroke="#666" stroke-width="0.8"/>
<line x1="196.2" y1="309.5" x2="199.2" y2="309.5" stroke="#666" stroke-width="0.8"/>
<line x1="196.2" y1="317.5" x2="199.2" y2="317.5" stroke="#666" stroke-width="0.8"/>
<polygon points="58.90,337.92 62.00,343.52 55.80,343.52" fill="#000"/>
<polygon points="93.50,353.12 96.60,358.72 90.40,358.72" fill="#000"/>
<polygon points="128.30,347.92 131.40,353.52 125.20,353.52" fill="#000"/>
<polygon points="162.70,335.52 165.80,341.12 159.60,341.12" fill="#000"/>
<polygon points="197.70,310.42 200.80,316.02 194.60,316.02" fill="#000"/>
<polygon points="232.30,299.22 235.40,304.82 229.20,304.82" fill="#000"/>
<polyline points="58.9,343.5 93.5,335.8 128.3,339.1 162.7,313.2 197.7,275.5 232.3,267.3" fill="none" stroke="#000" stroke-width="0.9"/>
<line x1="58.9" y1="340.5" x2="58.9" y2="346.5" stroke="#666" stroke-width="0.8"/>
<line x1="57.4" y1="340.5" x2="60.4" y2="340.5" stroke="#666" stroke-width="0.8"/>
<line x1="57.4" y1="346.5" x2="60.4" y2="346.5" stroke="#666" stroke-width="0.8"/>
<line x1="162.7" y1="309.0" x2="162.7" y2="317.4" stroke="#666" stroke-width="0.8"/>
<line x1="161.2" y1="309.0" x2="164.2" y2="309.0" stroke="#666" stroke-width="0.8"/>
<line x1="161.2" y1="317.4" x2="164.2" y2="317.4" stroke="#666" stroke-width="0.8"/>
<circle cx="58.90" cy="343.50" r="2.80" fill="#000"/>
<circle cx="93.50" cy="335.80" r="2.80" fill="#000"/>
<circle cx="128.30" cy="339.10" r="2.80" fill="#000"/>
<circle cx="162.70" cy="313.20" r="2.80" fill="#000"/>
<circle cx="197.70" cy="275.50" r="2.80" fill="#000"/>
<circle cx="232.30" cy="267.30" r="2.80" fill="#000"/>
<text x="93.1" y="335.0" font-size="19.5" font-weight="bold" text-anchor="middle">*</text>
<text x="162.8" y="311.8" font-size="19.5" font-weight="bold" text-anchor="middle">*</text>
<text x="196" y="274.6" font-size="19.5" font-weight="bold" text-anchor="middle">*</text>
<text x="232.3" y="267.8" font-size="19.5" font-weight="bold" text-anchor="middle">*</text>
<line x1="52.4" y1="271.0" x2="68.5" y2="271.0" stroke="#000" stroke-width="1.1"/>
<rect x="57.46" y="267.86" width="6.27" height="6.27" fill="#000"/>
<line x1="52.4" y1="285.6" x2="68.5" y2="285.6" stroke="#000" stroke-width="1.1"/>
<circle cx="60.60" cy="285.60" r="3.14" fill="#000"/>
<line x1="52.4" y1="298.5" x2="68.5" y2="298.5" stroke="#000" stroke-width="1.1"/>
<polygon points="60.60,295.05 64.07,301.32 57.13,301.32" fill="#000"/>
<g transform="translate(0,274) scale(1,1.16) translate(0,-274)"><text font-size="8"><tspan x="73.6" y="274">hIgG1</tspan></text></g>
<g transform="translate(0,288.6) scale(1,1.16) translate(0,-288.6)"><text font-size="8"><tspan x="73.6" y="288.6">hIgG1</tspan><tspan x="99.3">+</tspan><tspan x="105.6" font-family="Liberation Serif" font-size="7.6">γδ</tspan>T</text></g>
<g transform="translate(0,300.3) scale(1,1.16) translate(0,-300.3)"><text font-size="8"><tspan x="73.6" y="300.3">hIgG1</tspan><tspan x="99.3">+</tspan><tspan x="105.6" font-family="Liberation Serif" font-size="7.6">γδ</tspan>T<tspan x="120.6">+</tspan><tspan x="126.9" font-size="8.3">CD137Ig</tspan></text></g>
<text x="267" y="252.2" font-size="24.3" text-anchor="start" font-weight="bold" >D</text>
<line x1="286.9" y1="264.29" x2="286.9" y2="376.2" stroke="#000" stroke-width="1.3"/>
<line x1="286.29999999999995" y1="376.2" x2="494.7" y2="376.2" stroke="#000" stroke-width="1.5"/>
<line x1="283.7" y1="376.20" x2="286.9" y2="376.20" stroke="#000" stroke-width="1.1"/>
<text x="279.6" y="380.0" font-size="9.2" text-anchor="end" font-weight="normal" fill="#222">0</text>
<line x1="283.7" y1="360.28" x2="286.9" y2="360.28" stroke="#000" stroke-width="1.1"/>
<text x="279.6" y="364.08" font-size="9.2" text-anchor="end" font-weight="normal" fill="#222">5</text>
<line x1="283.7" y1="344.37" x2="286.9" y2="344.37" stroke="#000" stroke-width="1.1"/>
<text x="279.6" y="348.17" font-size="9.2" text-anchor="end" font-weight="normal" fill="#222">10</text>
<line x1="283.7" y1="328.45" x2="286.9" y2="328.45" stroke="#000" stroke-width="1.1"/>
<text x="279.6" y="332.25" font-size="9.2" text-anchor="end" font-weight="normal" fill="#222">15</text>
<line x1="283.7" y1="312.54" x2="286.9" y2="312.54" stroke="#000" stroke-width="1.1"/>
<text x="279.6" y="316.34" font-size="9.2" text-anchor="end" font-weight="normal" fill="#222">20</text>
<line x1="283.7" y1="296.62" x2="286.9" y2="296.62" stroke="#000" stroke-width="1.1"/>
<text x="279.6" y="300.43" font-size="9.2" text-anchor="end" font-weight="normal" fill="#222">25</text>
<line x1="283.7" y1="280.71" x2="286.9" y2="280.71" stroke="#000" stroke-width="1.1"/>
<text x="279.6" y="284.51" font-size="9.2" text-anchor="end" font-weight="normal" fill="#222">30</text>
<line x1="283.7" y1="264.79" x2="286.9" y2="264.79" stroke="#000" stroke-width="1.1"/>
<text x="279.6" y="268.59" font-size="9.2" text-anchor="end" font-weight="normal" fill="#222">35</text>
<line x1="286.90" y1="376.2" x2="286.90" y2="379.2" stroke="#000" stroke-width="1.1"/>
<line x1="338.85" y1="376.2" x2="338.85" y2="379.2" stroke="#000" stroke-width="1.1"/>
<line x1="390.80" y1="376.2" x2="390.80" y2="379.2" stroke="#000" stroke-width="1.1"/>
<line x1="442.75" y1="376.2" x2="442.75" y2="379.2" stroke="#000" stroke-width="1.1"/>
<line x1="494.70" y1="376.2" x2="494.70" y2="379.2" stroke="#000" stroke-width="1.1"/>
<text x="312.6" y="395" font-size="8.9" text-anchor="middle" font-weight="normal" fill="#222">2.5:1</text>
<text x="364.7" y="395" font-size="8.9" text-anchor="middle" font-weight="normal" fill="#222">5:1</text>
<text x="417.2" y="395" font-size="8.9" text-anchor="middle" font-weight="normal" fill="#222">10:1</text>
<text x="469.2" y="395" font-size="8.9" text-anchor="middle" font-weight="normal" fill="#222">20:1</text>
<text x="399.2" y="414.6" font-size="16.1" text-anchor="middle" font-weight="normal" >E:T ratio</text>
<polyline points="312.9,375.5 364.6,376.5 416.6,371.5 468.9,363.4" fill="none" stroke="#000" stroke-width="0.9"/>
<line x1="416.6" y1="367.5" x2="416.6" y2="375.5" stroke="#666" stroke-width="0.8"/>
<line x1="415.1" y1="367.5" x2="418.1" y2="367.5" stroke="#666" stroke-width="0.8"/>
<line x1="415.1" y1="375.5" x2="418.1" y2="375.5" stroke="#666" stroke-width="0.8"/>
<rect x="310.40" y="373.00" width="5.00" height="5.00" fill="#fff" stroke="#000" stroke-width="1"/>
<rect x="362.10" y="374.00" width="5.00" height="5.00" fill="#fff" stroke="#000" stroke-width="1"/>
<rect x="414.10" y="369.00" width="5.00" height="5.00" fill="#fff" stroke="#000" stroke-width="1"/>
<rect x="466.40" y="360.90" width="5.00" height="5.00" fill="#fff" stroke="#000" stroke-width="1"/>
<polyline points="312.9,374.2 364.6,373.2 416.6,367.7 468.9,357.1" fill="none" stroke="#000" stroke-width="0.9"/>
<line x1="416.6" y1="361.7" x2="416.6" y2="373.7" stroke="#666" stroke-width="0.8"/>
<line x1="415.1" y1="361.7" x2="418.1" y2="361.7" stroke="#666" stroke-width="0.8"/>
<line x1="415.1" y1="373.7" x2="418.1" y2="373.7" stroke="#666" stroke-width="0.8"/>
<rect x="310.10" y="371.40" width="5.60" height="5.60" fill="#000"/>
<rect x="361.80" y="370.40" width="5.60" height="5.60" fill="#000"/>
<rect x="413.80" y="364.90" width="5.60" height="5.60" fill="#000"/>
<rect x="466.10" y="354.30" width="5.60" height="5.60" fill="#000"/>
<polyline points="312.9,369.8 364.6,362.4 416.6,346.2 468.9,333.9" fill="none" stroke="#000" stroke-width="0.9"/>
<line x1="468.9" y1="329.9" x2="468.9" y2="337.9" stroke="#666" stroke-width="0.8"/>
<line x1="467.4" y1="329.9" x2="470.4" y2="329.9" stroke="#666" stroke-width="0.8"/>
<line x1="467.4" y1="337.9" x2="470.4" y2="337.9" stroke="#666" stroke-width="0.8"/>
<polygon points="312.90,366.72 316.00,372.32 309.80,372.32" fill="#000"/>
<polygon points="364.60,359.32 367.70,364.92 361.50,364.92" fill="#000"/>
<polygon points="416.60,343.12 419.70,348.72 413.50,348.72" fill="#000"/>
<polygon points="468.90,330.82 472.00,336.42 465.80,336.42" fill="#000"/>
<polyline points="312.9,353.8 364.6,339.1 416.6,296.0 468.9,283.5" fill="none" stroke="#000" stroke-width="0.9"/>
<line x1="312.9" y1="346.8" x2="312.9" y2="360.8" stroke="#666" stroke-width="0.8"/>
<line x1="311.4" y1="346.8" x2="314.4" y2="346.8" stroke="#666" stroke-width="0.8"/>
<line x1="311.4" y1="360.8" x2="314.4" y2="360.8" stroke="#666" stroke-width="0.8"/>
<line x1="364.6" y1="333.1" x2="364.6" y2="345.1" stroke="#666" stroke-width="0.8"/>
<line x1="363.1" y1="333.1" x2="366.1" y2="333.1" stroke="#666" stroke-width="0.8"/>
<line x1="363.1" y1="345.1" x2="366.1" y2="345.1" stroke="#666" stroke-width="0.8"/>
<circle cx="312.90" cy="353.80" r="2.80" fill="#000"/>
<circle cx="364.60" cy="339.10" r="2.80" fill="#000"/>
<circle cx="416.60" cy="296.00" r="2.80" fill="#000"/>
<circle cx="468.90" cy="283.50" r="2.80" fill="#000"/>
<text x="365.2" y="363.9" font-size="19.5" font-weight="bold" text-anchor="middle">*</text>
<text x="415.7" y="347.9" font-size="19.5" font-weight="bold" text-anchor="middle">*</text>
<text x="467.7" y="332.3" font-size="19.5" font-weight="bold" text-anchor="middle">*</text>
<line x1="300.2" y1="272.7" x2="315.7" y2="272.7" stroke="#000" stroke-width="1.1"/>
<rect x="305.30" y="269.90" width="5.60" height="5.60" fill="#fff" stroke="#000" stroke-width="1"/>
<line x1="300.2" y1="284.8" x2="315.7" y2="284.8" stroke="#000" stroke-width="1.1"/>
<rect x="304.96" y="281.66" width="6.27" height="6.27" fill="#000"/>
<line x1="300.2" y1="297.0" x2="315.7" y2="297.0" stroke="#000" stroke-width="1.1"/>
<polygon points="308.10,293.55 311.57,299.82 304.63,299.82" fill="#000"/>
<line x1="300.2" y1="308.5" x2="315.7" y2="308.5" stroke="#000" stroke-width="1.1"/>
<circle cx="308.10" cy="308.50" r="3.14" fill="#000"/>
<g transform="translate(0,275) scale(1,1.16) translate(0,-275)"><text font-size="8"><tspan x="323" y="275">hIgG1</tspan></text></g>
<g transform="translate(0,286.6) scale(1,1.16) translate(0,-286.6)"><text font-size="8"><tspan x="323" y="286.6">hIgG1</tspan><tspan x="347.8">+</tspan><tspan x="354.6">Mock</tspan></text></g>
<g transform="translate(0,299) scale(1,1.16) translate(0,-299)"><text font-size="8"><tspan x="323.5" y="299">hIgG1</tspan><tspan x="349.4">+</tspan><tspan x="355">CD137L</tspan></text></g>
<g transform="translate(0,310.2) scale(1,1.16) translate(0,-310.2)"><text font-size="8"><tspan x="323.5" y="310.2">hIgG1</tspan><tspan x="349.4">+</tspan><tspan x="355" font-family="Liberation Serif">γδ</tspan>T</text></g>
</svg>
</body></html>
